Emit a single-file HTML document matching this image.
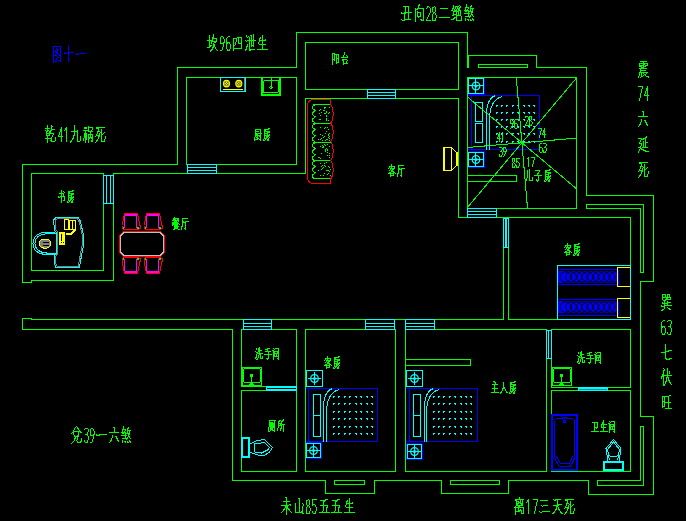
<!DOCTYPE html><html><head><meta charset="utf-8"><title>floor plan</title><style>html,body{margin:0;padding:0;background:#000;overflow:hidden;font-family:"Liberation Sans",sans-serif}svg{display:block}</style></head><body>
<svg width="687" height="521" viewBox="0 0 687 521" shape-rendering="crispEdges">
<title>户型风水平面图 图十一</title><desc>图十一 坎96四泄生 丑向28二绝煞 乾41九祸死 兑39一六煞 未山85五五生 离17三天死 震74六延死 巽63七伏旺 阳台 厨房 书房 餐厅 客厅 儿子房 客房 洗手间 厕所 主人房 卫生间</desc>
<rect width="687" height="521" fill="#000"/>
<path fill="#0000ff" d="M467 77h18v1h-18zM467 94h18v1h-18zM467 77h1v18h-1zM484 77h1v18h-1zM467 95h73v1h-73zM467 149h73v1h-73zM467 95h1v55h-1zM539 95h1v55h-1zM471 95h1v55h-1zM467 151h18v1h-18zM467 167h18v1h-18zM467 151h1v17h-1zM484 151h1v17h-1zM305 388h73v1h-73zM305 441h73v1h-73zM305 388h1v54h-1zM377 388h1v54h-1zM308 388h1v54h-1zM305 442h17v1h-17zM305 458h17v1h-17zM305 442h1v17h-1zM321 442h1v17h-1zM405 388h73v1h-73zM405 441h73v1h-73zM405 388h1v54h-1zM477 388h1v54h-1zM409 388h1v54h-1zM406 443h17v1h-17zM406 459h17v1h-17zM406 443h1v17h-1zM422 443h1v17h-1zM558 269h59v1h-59zM558 271h59v12h-59zM558 284h59v1h-59zM618 270h1v16h-1zM558 299h59v1h-59zM558 301h59v12h-59zM558 315h59v1h-59zM618 301h1v16h-1zM563 420h3v1h-3zM563 422h3v1h-3zM563 420h1v3h-1zM565 420h1v3h-1zM53 46h8v1h-8zM53 47h1v1h-1zM60 47h1v1h-1zM53 48h1v1h-1zM56 48h1v1h-1zM60 48h1v1h-1zM53 49h1v1h-1zM56 49h3v1h-3zM60 49h1v1h-1zM53 50h1v1h-1zM55 50h1v1h-1zM57 50h1v1h-1zM60 50h1v1h-1zM53 51h1v1h-1zM55 51h3v1h-3zM60 51h1v1h-1zM53 52h2v1h-2zM56 52h2v1h-2zM60 52h1v1h-1zM53 53h1v1h-1zM56 53h2v1h-2zM60 53h1v1h-1zM53 54h1v1h-1zM55 54h1v1h-1zM58 54h3v1h-3zM53 55h4v1h-4zM59 55h2v1h-2zM53 56h1v1h-1zM57 56h1v1h-1zM60 56h1v1h-1zM53 57h1v1h-1zM58 57h1v1h-1zM60 57h1v1h-1zM53 58h1v1h-1zM56 58h2v1h-2zM60 58h1v1h-1zM53 59h1v1h-1zM55 59h2v1h-2zM60 59h1v1h-1zM53 60h1v1h-1zM58 60h3v1h-3zM53 61h5v1h-5zM60 61h1v1h-1zM53 62h1v1h-1zM68 45h1v1h-1zM68 46h1v1h-1zM68 47h1v1h-1zM68 48h1v1h-1zM68 49h1v1h-1zM68 50h1v1h-1zM68 51h1v1h-1zM64 52h1v1h-1zM68 52h6v1h-6zM64 53h5v1h-5zM68 54h1v1h-1zM68 55h1v1h-1zM68 56h1v1h-1zM68 57h1v1h-1zM68 58h1v1h-1zM68 59h1v1h-1zM68 60h1v1h-1zM68 61h1v1h-1zM76 53h1v1h-1zM79 53h7v1h-7zM76 54h3v1h-3z"/>
<path d="M554.50 420.50 L556.50 418.50 L572.50 418.50 L574.50 420.50 L574.50 458.50 L570.50 466.50 L559.50 466.50 L554.50 458.50 L554.50 420.50" fill="none" stroke="#0000ff" stroke-width="1"/>
<path d="M556.50 456.50 L560.50 463.50 L569.50 463.50 L572.50 456.50" fill="none" stroke="#0000ff" stroke-width="1"/>
<path d="M561.50 416.50 L564.50 418.50 L567.50 416.50" fill="none" stroke="#0000ff" stroke-width="1"/>
<path fill="#00ff00" d="M22 164h1v119h-1zM22 164h156v1h-156zM177 67h1v98h-1zM177 67h120v1h-120zM296 32h1v36h-1zM296 32h172v1h-172zM467 32h1v36h-1zM468 55h1v13h-1zM468 55h69v1h-69zM536 55h1v13h-1zM536 67h51v1h-51zM586 67h1v129h-1zM586 195h68v1h-68zM653 195h1v87h-1zM640 281h14v1h-14zM640 281h1v136h-1zM640 416h14v1h-14zM653 416h1v79h-1zM588 494h66v1h-66zM588 480h1v15h-1zM508 480h81v1h-81zM508 480h1v14h-1zM441 493h68v1h-68zM441 480h1v14h-1zM374 480h68v1h-68zM374 480h1v14h-1zM325 493h50v1h-50zM325 480h1v14h-1zM232 480h94v1h-94zM232 329h1v152h-1zM22 329h211v1h-211zM22 318h1v12h-1zM22 318h10v1h-10zM31 318h1v2h-1zM31 319h473v1h-473zM508 319h123v1h-123zM22 282h10v1h-10zM31 280h1v3h-1zM31 280h83v1h-83zM113 173h1v108h-1zM31 173h73v1h-73zM31 270h73v1h-73zM31 173h1v98h-1zM103 173h1v98h-1zM113 173h193v1h-193zM305 98h1v76h-1zM186 77h111v1h-111zM296 77h1v88h-1zM186 164h111v1h-111zM186 77h1v88h-1zM305 42h154v1h-154zM305 89h154v1h-154zM305 42h1v48h-1zM458 42h1v48h-1zM305 98h154v1h-154zM458 98h1v120h-1zM458 217h173v1h-173zM503 217h1v103h-1zM508 217h1v103h-1zM630 217h1v103h-1zM478 64h50v1h-50zM478 67h50v1h-50zM478 64h1v4h-1zM527 64h1v4h-1zM467 77h110v1h-110zM467 208h110v1h-110zM467 77h1v132h-1zM576 77h1v132h-1zM467 175h50v1h-50zM467 181h50v1h-50zM467 175h1v7h-1zM516 175h1v7h-1zM586 204h58v1h-58zM643 204h1v69h-1zM640 272h4v1h-4zM640 208h1v65h-1zM586 208h55v1h-55zM586 204h1v5h-1zM241 329h56v1h-56zM241 386h56v1h-56zM241 329h1v58h-1zM296 329h1v58h-1zM241 390h56v1h-56zM241 471h56v1h-56zM241 390h1v82h-1zM296 390h1v82h-1zM305 329h91v1h-91zM305 471h91v1h-91zM305 329h1v143h-1zM395 329h1v143h-1zM405 329h142v1h-142zM405 329h1v143h-1zM405 471h142v1h-142zM546 329h1v143h-1zM551 329h80v1h-80zM551 387h80v1h-80zM551 329h1v59h-1zM630 329h1v59h-1zM551 390h80v1h-80zM551 471h80v1h-80zM551 390h1v82h-1zM630 390h1v82h-1zM405 359h66v1h-66zM405 365h66v1h-66zM405 359h1v7h-1zM470 359h1v7h-1zM334 480h31v1h-31zM334 484h31v1h-31zM334 480h1v5h-1zM364 480h1v5h-1zM450 480h50v1h-50zM450 484h50v1h-50zM450 480h1v5h-1zM499 480h1v5h-1zM597 480h44v1h-44zM640 426h1v55h-1zM640 426h4v1h-4zM643 426h1v60h-1zM597 485h47v1h-47zM597 480h1v6h-1zM261 77h20v1h-20zM261 95h20v1h-20zM261 77h1v19h-1zM280 77h1v19h-1zM261 94h20v1h-20zM262 77h1v19h-1zM279 77h1v19h-1zM271 78h1v10h-1zM242 367h20v1h-20zM242 385h20v1h-20zM242 367h1v19h-1zM261 367h1v19h-1zM251 375h1v11h-1zM250 374h3v1h-3zM250 376h3v1h-3zM250 374h1v3h-1zM252 374h1v3h-1zM249 384h5v1h-5zM250 383h3v1h-3zM552 367h20v1h-20zM552 385h20v1h-20zM552 367h1v19h-1zM571 367h1v19h-1zM561 375h1v11h-1zM560 374h3v1h-3zM560 376h3v1h-3zM560 374h1v3h-1zM562 374h1v3h-1zM559 384h5v1h-5zM560 383h3v1h-3zM122 227h2v2h-2zM137 227h2v2h-2zM144 227h2v2h-2zM159 227h2v2h-2zM122 258h2v2h-2zM137 258h2v2h-2zM144 258h2v2h-2zM159 258h2v2h-2zM313 104h18v1h-18zM324 110h1v1h-1zM325 107h1v1h-1zM320 109h1v1h-1zM324 107h1v1h-1zM329 112h1v1h-1zM319 119h1v1h-1zM325 113h1v1h-1zM320 119h1v1h-1zM320 109h1v1h-1zM329 107h1v1h-1zM326 118h1v1h-1zM319 113h1v1h-1zM319 110h1v1h-1zM323 110h1v1h-1zM326 115h1v1h-1zM326 111h1v1h-1zM321 112h1v1h-1zM324 108h1v1h-1zM326 112h1v1h-1zM326 119h1v1h-1zM328 120h1v1h-1zM326 120h1v1h-1zM324 113h1v1h-1zM328 113h1v1h-1zM320 115h1v1h-1zM326 116h1v1h-1zM313 123h18v1h-18zM328 134h1v1h-1zM327 127h1v1h-1zM321 138h1v1h-1zM322 135h1v1h-1zM322 140h1v1h-1zM325 127h1v1h-1zM328 135h1v1h-1zM324 136h1v1h-1zM326 139h1v1h-1zM320 127h1v1h-1zM329 140h1v1h-1zM327 127h1v1h-1zM320 134h1v1h-1zM327 139h1v1h-1zM323 137h1v1h-1zM329 136h1v1h-1zM318 139h1v1h-1zM324 128h1v1h-1zM326 131h1v1h-1zM328 129h1v1h-1zM328 137h1v1h-1zM325 140h1v1h-1zM320 139h1v1h-1zM325 133h1v1h-1zM329 138h1v1h-1zM329 133h1v1h-1zM313 142h18v1h-18zM327 149h1v1h-1zM327 150h1v1h-1zM329 146h1v1h-1zM320 146h1v1h-1zM323 147h1v1h-1zM318 157h1v1h-1zM326 148h1v1h-1zM323 146h1v1h-1zM325 149h1v1h-1zM327 149h1v1h-1zM329 155h1v1h-1zM329 153h1v1h-1zM327 155h1v1h-1zM320 158h1v1h-1zM329 157h1v1h-1zM327 152h1v1h-1zM325 150h1v1h-1zM325 151h1v1h-1zM327 144h1v1h-1zM322 147h1v1h-1zM325 145h1v1h-1zM324 144h1v1h-1zM321 153h1v1h-1zM322 145h1v1h-1zM329 153h1v1h-1zM319 157h1v1h-1zM313 160h18v1h-18zM322 168h1v1h-1zM321 166h1v1h-1zM329 171h1v1h-1zM324 163h1v1h-1zM321 169h1v1h-1zM330 169h1v1h-1zM325 166h1v1h-1zM320 163h1v1h-1zM328 173h1v1h-1zM323 175h1v1h-1zM327 170h1v1h-1zM318 170h1v1h-1zM324 173h1v1h-1zM326 162h1v1h-1zM328 166h1v1h-1zM330 175h1v1h-1zM320 175h1v1h-1zM323 167h1v1h-1zM329 167h1v1h-1zM328 170h1v1h-1zM326 170h1v1h-1zM324 165h1v1h-1zM327 174h1v1h-1zM330 175h1v1h-1zM322 165h1v1h-1zM328 173h1v1h-1zM313 178h18v1h-18zM213 34h1v1h-1zM209 35h1v1h-1zM213 35h1v1h-1zM209 36h1v1h-1zM213 36h1v1h-1zM209 37h1v1h-1zM212 37h2v1h-2zM209 38h1v1h-1zM212 38h5v1h-5zM209 39h1v1h-1zM212 39h1v1h-1zM216 39h1v1h-1zM207 40h6v1h-6zM216 40h1v1h-1zM209 41h1v1h-1zM211 41h6v1h-6zM209 42h1v1h-1zM211 42h1v1h-1zM214 42h2v1h-2zM209 43h1v1h-1zM211 43h1v1h-1zM213 43h1v1h-1zM209 44h1v1h-1zM213 44h2v1h-2zM209 45h3v1h-3zM213 45h2v1h-2zM209 46h2v1h-2zM213 46h2v1h-2zM207 47h3v1h-3zM212 47h2v1h-2zM215 47h1v1h-1zM212 48h1v1h-1zM215 48h1v1h-1zM211 49h2v1h-2zM216 49h1v1h-1zM210 50h2v1h-2zM217 50h1v1h-1zM210 51h1v1h-1zM221 36h2v1h-2zM220 37h1v1h-1zM223 37h1v1h-1zM220 38h1v1h-1zM223 38h1v1h-1zM220 39h1v1h-1zM224 39h1v1h-1zM220 40h1v1h-1zM224 40h1v1h-1zM220 41h1v1h-1zM224 41h1v1h-1zM220 42h1v1h-1zM223 42h2v1h-2zM220 43h4v1h-4zM223 44h1v1h-1zM223 45h1v1h-1zM223 46h1v1h-1zM222 47h1v1h-1zM222 48h1v1h-1zM222 49h1v1h-1zM220 50h2v1h-2zM228 36h2v1h-2zM227 37h1v1h-1zM226 38h1v1h-1zM226 39h1v1h-1zM226 40h1v1h-1zM226 41h1v1h-1zM226 42h4v1h-4zM226 43h2v1h-2zM229 43h1v1h-1zM226 44h1v1h-1zM230 44h1v1h-1zM226 45h1v1h-1zM230 45h1v1h-1zM226 46h1v1h-1zM230 46h1v1h-1zM226 47h1v1h-1zM230 47h1v1h-1zM226 48h1v1h-1zM230 48h1v1h-1zM227 49h1v1h-1zM229 49h1v1h-1zM227 50h3v1h-3zM237 37h5v1h-5zM233 38h4v1h-4zM238 38h1v1h-1zM241 38h1v1h-1zM233 39h1v1h-1zM236 39h1v1h-1zM238 39h1v1h-1zM241 39h1v1h-1zM233 40h1v1h-1zM236 40h1v1h-1zM238 40h1v1h-1zM241 40h1v1h-1zM233 41h1v1h-1zM236 41h1v1h-1zM238 41h1v1h-1zM241 41h1v1h-1zM233 42h1v1h-1zM235 42h1v1h-1zM238 42h1v1h-1zM241 42h1v1h-1zM233 43h1v1h-1zM235 43h1v1h-1zM238 43h4v1h-4zM233 44h1v1h-1zM235 44h1v1h-1zM241 44h1v1h-1zM233 45h2v1h-2zM241 45h1v1h-1zM233 46h1v1h-1zM241 46h1v1h-1zM233 47h1v1h-1zM241 47h1v1h-1zM233 48h9v1h-9zM233 49h1v1h-1zM233 50h1v1h-1zM253 34h1v1h-1zM246 35h1v1h-1zM250 35h2v1h-2zM253 35h1v1h-1zM246 36h1v1h-1zM248 36h1v1h-1zM251 36h1v1h-1zM253 36h1v1h-1zM247 37h1v1h-1zM249 37h1v1h-1zM251 37h1v1h-1zM253 37h1v1h-1zM249 38h1v1h-1zM251 38h1v1h-1zM253 38h1v1h-1zM249 39h1v1h-1zM251 39h1v1h-1zM253 39h1v1h-1zM245 40h1v1h-1zM247 40h9v1h-9zM246 41h1v1h-1zM249 41h1v1h-1zM251 41h1v1h-1zM253 41h1v1h-1zM249 42h1v1h-1zM251 42h1v1h-1zM253 42h1v1h-1zM249 43h1v1h-1zM251 43h1v1h-1zM253 43h1v1h-1zM247 44h1v1h-1zM249 44h1v1h-1zM251 44h1v1h-1zM253 44h1v1h-1zM247 45h1v1h-1zM249 45h1v1h-1zM251 45h3v1h-3zM246 46h2v1h-2zM249 46h1v1h-1zM251 46h1v1h-1zM253 46h1v1h-1zM246 47h1v1h-1zM249 47h1v1h-1zM246 48h1v1h-1zM249 48h1v1h-1zM245 49h2v1h-2zM249 49h6v1h-6zM245 50h1v1h-1zM249 50h2v1h-2zM262 35h1v1h-1zM262 36h1v1h-1zM260 37h1v1h-1zM262 37h1v1h-1zM259 38h2v1h-2zM262 38h1v1h-1zM259 39h1v1h-1zM262 39h1v1h-1zM265 39h1v1h-1zM259 40h7v1h-7zM259 41h1v1h-1zM262 41h1v1h-1zM258 42h1v1h-1zM262 42h1v1h-1zM258 43h1v1h-1zM262 43h1v1h-1zM259 44h7v1h-7zM262 45h1v1h-1zM262 46h1v1h-1zM262 47h1v1h-1zM262 48h1v1h-1zM257 49h11v1h-11zM403 6h6v1h-6zM405 7h1v1h-1zM408 7h1v1h-1zM405 8h1v1h-1zM408 8h1v1h-1zM405 9h1v1h-1zM408 9h1v1h-1zM405 10h1v1h-1zM408 10h1v1h-1zM405 11h1v1h-1zM408 11h1v1h-1zM401 12h1v1h-1zM404 12h8v1h-8zM401 13h5v1h-5zM408 13h1v1h-1zM404 14h1v1h-1zM408 14h1v1h-1zM404 15h1v1h-1zM408 15h1v1h-1zM404 16h1v1h-1zM408 16h1v1h-1zM404 17h1v1h-1zM408 17h1v1h-1zM404 18h1v1h-1zM408 18h1v1h-1zM401 19h1v1h-1zM404 19h7v1h-7zM402 20h3v1h-3zM419 4h1v1h-1zM418 5h2v1h-2zM418 6h1v1h-1zM418 7h1v1h-1zM415 8h1v1h-1zM417 8h7v1h-7zM415 9h3v1h-3zM423 9h1v1h-1zM415 10h1v1h-1zM423 10h1v1h-1zM415 11h1v1h-1zM417 11h1v1h-1zM423 11h1v1h-1zM415 12h1v1h-1zM417 12h4v1h-4zM423 12h1v1h-1zM415 13h1v1h-1zM417 13h1v1h-1zM420 13h1v1h-1zM423 13h1v1h-1zM415 14h1v1h-1zM417 14h1v1h-1zM420 14h1v1h-1zM423 14h1v1h-1zM415 15h1v1h-1zM417 15h1v1h-1zM420 15h1v1h-1zM423 15h1v1h-1zM415 16h1v1h-1zM417 16h4v1h-4zM423 16h1v1h-1zM415 17h1v1h-1zM418 17h1v1h-1zM423 17h1v1h-1zM415 18h1v1h-1zM423 18h1v1h-1zM415 19h1v1h-1zM420 19h2v1h-2zM423 19h1v1h-1zM415 20h1v1h-1zM421 20h3v1h-3zM415 21h1v1h-1zM427 6h2v1h-2zM427 7h1v1h-1zM429 7h1v1h-1zM426 8h1v1h-1zM430 8h1v1h-1zM430 9h1v1h-1zM430 10h1v1h-1zM430 11h1v1h-1zM430 12h1v1h-1zM429 13h1v1h-1zM429 14h1v1h-1zM428 15h1v1h-1zM428 16h1v1h-1zM427 17h1v1h-1zM427 18h1v1h-1zM426 19h1v1h-1zM426 20h5v1h-5zM434 6h1v1h-1zM432 7h2v1h-2zM435 7h1v1h-1zM432 8h1v1h-1zM435 8h1v1h-1zM432 9h1v1h-1zM435 9h1v1h-1zM432 10h1v1h-1zM435 10h1v1h-1zM432 11h1v1h-1zM435 11h1v1h-1zM433 12h2v1h-2zM433 13h1v1h-1zM435 13h1v1h-1zM432 14h1v1h-1zM435 14h1v1h-1zM432 15h1v1h-1zM436 15h1v1h-1zM432 16h1v1h-1zM436 16h1v1h-1zM432 17h1v1h-1zM436 17h1v1h-1zM432 18h1v1h-1zM435 18h1v1h-1zM432 19h1v1h-1zM435 19h1v1h-1zM432 20h4v1h-4zM440 8h8v1h-8zM439 17h11v1h-11zM453 5h1v1h-1zM459 5h1v1h-1zM453 6h1v1h-1zM455 6h4v1h-4zM460 6h1v1h-1zM453 7h1v1h-1zM455 7h1v1h-1zM457 7h1v1h-1zM459 7h2v1h-2zM452 8h2v1h-2zM455 8h1v1h-1zM457 8h3v1h-3zM452 9h1v1h-1zM454 9h1v1h-1zM456 9h1v1h-1zM458 9h2v1h-2zM451 10h2v1h-2zM454 10h3v1h-3zM458 10h3v1h-3zM453 11h6v1h-6zM460 11h1v1h-1zM453 12h1v1h-1zM456 12h1v1h-1zM458 12h1v1h-1zM460 12h1v1h-1zM453 13h1v1h-1zM456 13h1v1h-1zM458 13h1v1h-1zM460 13h1v1h-1zM453 14h4v1h-4zM458 14h1v1h-1zM460 14h1v1h-1zM452 15h2v1h-2zM456 15h5v1h-5zM456 16h1v1h-1zM461 16h1v1h-1zM454 17h3v1h-3zM461 17h1v1h-1zM453 18h2v1h-2zM456 18h1v1h-1zM461 18h1v1h-1zM451 19h3v1h-3zM456 19h1v1h-1zM461 19h1v1h-1zM456 20h6v1h-6zM466 4h1v1h-1zM466 5h1v1h-1zM471 5h1v1h-1zM466 6h1v1h-1zM470 6h2v1h-2zM465 7h4v1h-4zM470 7h1v1h-1zM465 8h1v1h-1zM468 8h1v1h-1zM470 8h4v1h-4zM465 9h1v1h-1zM467 9h1v1h-1zM470 9h1v1h-1zM472 9h1v1h-1zM464 10h5v1h-5zM470 10h1v1h-1zM472 10h1v1h-1zM465 11h2v1h-2zM468 11h5v1h-5zM468 12h1v1h-1zM471 12h2v1h-2zM464 13h6v1h-6zM471 13h1v1h-1zM468 14h1v1h-1zM471 14h2v1h-2zM468 15h1v1h-1zM470 15h1v1h-1zM472 15h1v1h-1zM465 16h6v1h-6zM473 16h1v1h-1zM469 17h1v1h-1zM465 18h1v1h-1zM472 18h1v1h-1zM465 19h1v1h-1zM467 19h2v1h-2zM470 19h1v1h-1zM472 19h2v1h-2zM465 20h1v1h-1zM468 20h1v1h-1zM470 20h2v1h-2zM473 20h1v1h-1zM47 125h1v1h-1zM51 125h1v1h-1zM47 126h1v1h-1zM51 126h2v1h-2zM47 127h1v1h-1zM51 127h1v1h-1zM45 128h5v1h-5zM51 128h1v1h-1zM47 129h1v1h-1zM51 129h4v1h-4zM45 130h1v1h-1zM47 130h2v1h-2zM50 130h2v1h-2zM46 131h2v1h-2zM49 131h2v1h-2zM46 132h1v1h-1zM49 132h2v1h-2zM46 133h8v1h-8zM46 134h1v1h-1zM49 134h1v1h-1zM53 134h1v1h-1zM46 135h4v1h-4zM52 135h1v1h-1zM47 136h1v1h-1zM52 136h1v1h-1zM47 137h1v1h-1zM51 137h1v1h-1zM55 137h1v1h-1zM45 138h7v1h-7zM55 138h1v1h-1zM47 139h1v1h-1zM51 139h1v1h-1zM55 139h1v1h-1zM47 140h1v1h-1zM50 140h2v1h-2zM55 140h1v1h-1zM47 141h1v1h-1zM51 141h4v1h-4zM47 142h1v1h-1zM61 127h1v1h-1zM61 128h1v1h-1zM60 129h2v1h-2zM60 130h2v1h-2zM60 131h2v1h-2zM59 132h1v1h-1zM61 132h1v1h-1zM59 133h1v1h-1zM61 133h1v1h-1zM59 134h1v1h-1zM61 134h1v1h-1zM58 135h1v1h-1zM61 135h1v1h-1zM58 136h5v1h-5zM61 137h1v1h-1zM61 138h1v1h-1zM61 139h1v1h-1zM61 140h1v1h-1zM61 141h1v1h-1zM66 127h1v1h-1zM65 128h2v1h-2zM65 129h2v1h-2zM64 130h1v1h-1zM66 130h1v1h-1zM66 131h1v1h-1zM66 132h1v1h-1zM66 133h1v1h-1zM66 134h1v1h-1zM66 135h1v1h-1zM66 136h1v1h-1zM66 137h1v1h-1zM66 138h1v1h-1zM66 139h1v1h-1zM66 140h1v1h-1zM66 141h1v1h-1zM74 125h1v1h-1zM74 126h1v1h-1zM74 127h1v1h-1zM74 128h1v1h-1zM74 129h1v1h-1zM74 130h1v1h-1zM77 130h1v1h-1zM71 131h7v1h-7zM74 132h1v1h-1zM77 132h1v1h-1zM74 133h1v1h-1zM77 133h1v1h-1zM74 134h1v1h-1zM77 134h1v1h-1zM73 135h2v1h-2zM77 135h1v1h-1zM73 136h1v1h-1zM77 136h1v1h-1zM80 136h1v1h-1zM73 137h1v1h-1zM77 137h1v1h-1zM80 137h1v1h-1zM72 138h2v1h-2zM77 138h1v1h-1zM80 138h1v1h-1zM72 139h1v1h-1zM77 139h1v1h-1zM80 139h1v1h-1zM71 140h1v1h-1zM77 140h1v1h-1zM80 140h1v1h-1zM70 141h2v1h-2zM77 141h3v1h-3zM70 142h1v1h-1zM88 126h1v1h-1zM84 127h3v1h-3zM88 127h5v1h-5zM84 128h3v1h-3zM88 128h1v1h-1zM92 128h1v1h-1zM88 129h1v1h-1zM92 129h1v1h-1zM83 130h6v1h-6zM91 130h1v1h-1zM85 131h1v1h-1zM88 131h5v1h-5zM85 132h1v1h-1zM90 132h1v1h-1zM84 133h3v1h-3zM90 133h1v1h-1zM84 134h3v1h-3zM88 134h5v1h-5zM84 135h3v1h-3zM88 135h1v1h-1zM90 135h1v1h-1zM92 135h1v1h-1zM84 136h3v1h-3zM88 136h1v1h-1zM90 136h1v1h-1zM92 136h1v1h-1zM84 137h3v1h-3zM88 137h5v1h-5zM83 138h1v1h-1zM85 138h2v1h-2zM88 138h2v1h-2zM91 138h2v1h-2zM83 139h1v1h-1zM85 139h2v1h-2zM88 139h1v1h-1zM92 139h1v1h-1zM83 140h1v1h-1zM85 140h1v1h-1zM88 140h1v1h-1zM91 140h2v1h-2zM85 141h1v1h-1zM88 141h1v1h-1zM91 141h2v1h-2zM85 142h1v1h-1zM88 142h1v1h-1zM96 127h9v1h-9zM96 128h3v1h-3zM98 129h1v1h-1zM101 129h1v1h-1zM98 130h1v1h-1zM101 130h1v1h-1zM97 131h3v1h-3zM101 131h1v1h-1zM97 132h1v1h-1zM100 132h2v1h-2zM104 132h1v1h-1zM97 133h1v1h-1zM99 133h1v1h-1zM101 133h1v1h-1zM103 133h1v1h-1zM96 134h1v1h-1zM99 134h1v1h-1zM101 134h2v1h-2zM96 135h4v1h-4zM101 135h1v1h-1zM95 136h1v1h-1zM98 136h2v1h-2zM101 136h1v1h-1zM105 136h1v1h-1zM98 137h1v1h-1zM101 137h1v1h-1zM105 137h1v1h-1zM98 138h1v1h-1zM101 138h1v1h-1zM105 138h1v1h-1zM97 139h1v1h-1zM101 139h1v1h-1zM104 139h1v1h-1zM96 140h2v1h-2zM101 140h1v1h-1zM104 140h1v1h-1zM96 141h1v1h-1zM101 141h4v1h-4zM95 142h1v1h-1zM76 426h1v1h-1zM75 427h1v1h-1zM77 427h1v1h-1zM74 428h1v1h-1zM77 428h2v1h-2zM74 429h1v1h-1zM78 429h1v1h-1zM73 430h1v1h-1zM79 430h1v1h-1zM73 431h8v1h-8zM72 432h2v1h-2zM78 432h1v1h-1zM80 432h2v1h-2zM71 433h1v1h-1zM73 433h1v1h-1zM78 433h1v1h-1zM73 434h1v1h-1zM78 434h1v1h-1zM74 435h1v1h-1zM77 435h2v1h-2zM74 436h5v1h-5zM75 437h1v1h-1zM77 437h1v1h-1zM74 438h2v1h-2zM77 438h1v1h-1zM81 438h1v1h-1zM74 439h1v1h-1zM77 439h1v1h-1zM81 439h1v1h-1zM74 440h1v1h-1zM76 440h1v1h-1zM81 440h1v1h-1zM73 441h1v1h-1zM77 441h1v1h-1zM80 441h2v1h-2zM72 442h1v1h-1zM77 442h4v1h-4zM71 443h1v1h-1zM85 428h3v1h-3zM84 429h1v1h-1zM88 429h1v1h-1zM88 430h1v1h-1zM88 431h1v1h-1zM87 432h1v1h-1zM87 433h1v1h-1zM85 434h3v1h-3zM87 435h1v1h-1zM88 436h1v1h-1zM88 437h1v1h-1zM88 438h1v1h-1zM88 439h1v1h-1zM84 440h1v1h-1zM87 440h1v1h-1zM84 441h1v1h-1zM87 441h1v1h-1zM85 442h3v1h-3zM91 428h2v1h-2zM90 429h1v1h-1zM93 429h1v1h-1zM90 430h1v1h-1zM93 430h1v1h-1zM90 431h1v1h-1zM94 431h1v1h-1zM90 432h1v1h-1zM94 432h1v1h-1zM90 433h1v1h-1zM94 433h1v1h-1zM90 434h1v1h-1zM93 434h2v1h-2zM90 435h4v1h-4zM93 436h1v1h-1zM93 437h1v1h-1zM93 438h1v1h-1zM92 439h1v1h-1zM92 440h1v1h-1zM92 441h1v1h-1zM90 442h2v1h-2zM96 434h1v1h-1zM99 434h8v1h-8zM96 435h4v1h-4zM113 427h2v1h-2zM114 428h1v1h-1zM114 429h1v1h-1zM114 430h1v1h-1zM114 431h1v1h-1zM109 432h10v1h-10zM112 435h1v1h-1zM112 436h1v1h-1zM115 436h2v1h-2zM112 437h1v1h-1zM116 437h1v1h-1zM111 438h1v1h-1zM116 438h2v1h-2zM111 439h1v1h-1zM117 439h1v1h-1zM110 440h2v1h-2zM117 440h2v1h-2zM110 441h1v1h-1zM118 441h1v1h-1zM109 442h1v1h-1zM123 426h1v1h-1zM123 427h1v1h-1zM128 427h1v1h-1zM123 428h1v1h-1zM127 428h2v1h-2zM122 429h4v1h-4zM127 429h1v1h-1zM122 430h1v1h-1zM125 430h1v1h-1zM127 430h4v1h-4zM122 431h1v1h-1zM124 431h1v1h-1zM127 431h1v1h-1zM129 431h1v1h-1zM121 432h5v1h-5zM127 432h1v1h-1zM129 432h1v1h-1zM122 433h2v1h-2zM125 433h5v1h-5zM125 434h1v1h-1zM128 434h2v1h-2zM121 435h6v1h-6zM128 435h1v1h-1zM125 436h1v1h-1zM128 436h2v1h-2zM125 437h1v1h-1zM127 437h1v1h-1zM129 437h1v1h-1zM122 438h6v1h-6zM130 438h1v1h-1zM126 439h1v1h-1zM122 440h1v1h-1zM129 440h1v1h-1zM122 441h1v1h-1zM124 441h2v1h-2zM127 441h1v1h-1zM129 441h2v1h-2zM122 442h1v1h-1zM125 442h1v1h-1zM127 442h2v1h-2zM130 442h1v1h-1zM285 497h2v1h-2zM286 498h1v1h-1zM286 499h1v1h-1zM286 500h1v1h-1zM283 501h7v1h-7zM286 502h1v1h-1zM286 503h1v1h-1zM286 504h1v1h-1zM289 504h2v1h-2zM281 505h8v1h-8zM290 505h1v1h-1zM285 506h3v1h-3zM285 507h3v1h-3zM284 508h1v1h-1zM286 508h3v1h-3zM283 509h2v1h-2zM286 509h1v1h-1zM288 509h2v1h-2zM283 510h1v1h-1zM286 510h1v1h-1zM289 510h1v1h-1zM282 511h1v1h-1zM286 511h1v1h-1zM290 511h1v1h-1zM281 512h1v1h-1zM286 512h1v1h-1zM291 512h1v1h-1zM286 513h1v1h-1zM286 514h1v1h-1zM298 498h2v1h-2zM299 499h1v1h-1zM299 500h1v1h-1zM299 501h1v1h-1zM299 502h1v1h-1zM295 503h1v1h-1zM299 503h1v1h-1zM302 503h1v1h-1zM295 504h1v1h-1zM299 504h1v1h-1zM303 504h1v1h-1zM295 505h1v1h-1zM299 505h1v1h-1zM303 505h1v1h-1zM295 506h1v1h-1zM299 506h1v1h-1zM302 506h1v1h-1zM295 507h1v1h-1zM299 507h1v1h-1zM302 507h1v1h-1zM295 508h1v1h-1zM299 508h1v1h-1zM302 508h1v1h-1zM295 509h1v1h-1zM299 509h1v1h-1zM302 509h1v1h-1zM295 510h1v1h-1zM299 510h1v1h-1zM302 510h1v1h-1zM295 511h1v1h-1zM299 511h1v1h-1zM301 511h2v1h-2zM295 512h8v1h-8zM302 513h2v1h-2zM308 499h1v1h-1zM306 500h2v1h-2zM309 500h1v1h-1zM306 501h1v1h-1zM309 501h1v1h-1zM306 502h1v1h-1zM309 502h1v1h-1zM306 503h1v1h-1zM309 503h1v1h-1zM306 504h1v1h-1zM309 504h1v1h-1zM307 505h2v1h-2zM307 506h1v1h-1zM309 506h1v1h-1zM306 507h1v1h-1zM309 507h1v1h-1zM306 508h1v1h-1zM310 508h1v1h-1zM306 509h1v1h-1zM310 509h1v1h-1zM306 510h1v1h-1zM310 510h1v1h-1zM306 511h1v1h-1zM309 511h1v1h-1zM306 512h1v1h-1zM309 512h1v1h-1zM306 513h4v1h-4zM312 499h5v1h-5zM312 500h1v1h-1zM312 501h1v1h-1zM312 502h1v1h-1zM312 503h1v1h-1zM312 504h3v1h-3zM312 505h1v1h-1zM315 505h1v1h-1zM315 506h1v1h-1zM316 507h1v1h-1zM316 508h1v1h-1zM316 509h1v1h-1zM316 510h1v1h-1zM312 511h1v1h-1zM315 511h1v1h-1zM312 512h1v1h-1zM315 512h1v1h-1zM313 513h3v1h-3zM325 499h3v1h-3zM320 500h6v1h-6zM323 501h2v1h-2zM323 502h1v1h-1zM323 503h1v1h-1zM323 504h1v1h-1zM320 505h8v1h-8zM323 506h1v1h-1zM327 506h1v1h-1zM323 507h1v1h-1zM326 507h2v1h-2zM323 508h1v1h-1zM326 508h1v1h-1zM323 509h1v1h-1zM326 509h1v1h-1zM323 510h1v1h-1zM326 510h1v1h-1zM322 511h1v1h-1zM326 511h1v1h-1zM319 512h11v1h-11zM337 499h3v1h-3zM332 500h6v1h-6zM335 501h2v1h-2zM335 502h1v1h-1zM335 503h1v1h-1zM335 504h1v1h-1zM332 505h8v1h-8zM335 506h1v1h-1zM339 506h1v1h-1zM335 507h1v1h-1zM338 507h2v1h-2zM335 508h1v1h-1zM338 508h1v1h-1zM335 509h1v1h-1zM338 509h1v1h-1zM335 510h1v1h-1zM338 510h1v1h-1zM334 511h1v1h-1zM338 511h1v1h-1zM331 512h11v1h-11zM349 498h1v1h-1zM349 499h1v1h-1zM347 500h1v1h-1zM349 500h1v1h-1zM346 501h2v1h-2zM349 501h1v1h-1zM346 502h1v1h-1zM349 502h1v1h-1zM352 502h1v1h-1zM346 503h7v1h-7zM346 504h1v1h-1zM349 504h1v1h-1zM345 505h1v1h-1zM349 505h1v1h-1zM345 506h1v1h-1zM349 506h1v1h-1zM346 507h7v1h-7zM349 508h1v1h-1zM349 509h1v1h-1zM349 510h1v1h-1zM349 511h1v1h-1zM344 512h11v1h-11zM519 497h1v1h-1zM519 498h1v1h-1zM515 499h9v1h-9zM515 500h2v1h-2zM520 500h1v1h-1zM522 500h1v1h-1zM516 501h3v1h-3zM520 501h1v1h-1zM522 501h1v1h-1zM516 502h1v1h-1zM518 502h3v1h-3zM522 502h1v1h-1zM516 503h3v1h-3zM520 503h3v1h-3zM516 504h2v1h-2zM521 504h2v1h-2zM516 505h7v1h-7zM515 506h1v1h-1zM518 506h2v1h-2zM514 507h10v1h-10zM515 508h1v1h-1zM518 508h1v1h-1zM523 508h1v1h-1zM515 509h1v1h-1zM518 509h1v1h-1zM520 509h1v1h-1zM523 509h1v1h-1zM515 510h1v1h-1zM518 510h4v1h-4zM523 510h1v1h-1zM515 511h5v1h-5zM521 511h1v1h-1zM523 511h1v1h-1zM515 512h1v1h-1zM521 512h1v1h-1zM523 512h1v1h-1zM515 513h1v1h-1zM521 513h3v1h-3zM515 514h1v1h-1zM528 499h1v1h-1zM527 500h2v1h-2zM527 501h2v1h-2zM526 502h1v1h-1zM528 502h1v1h-1zM528 503h1v1h-1zM528 504h1v1h-1zM528 505h1v1h-1zM528 506h1v1h-1zM528 507h1v1h-1zM528 508h1v1h-1zM528 509h1v1h-1zM528 510h1v1h-1zM528 511h1v1h-1zM528 512h1v1h-1zM528 513h1v1h-1zM533 499h5v1h-5zM537 500h1v1h-1zM537 501h1v1h-1zM536 502h1v1h-1zM536 503h1v1h-1zM536 504h1v1h-1zM536 505h1v1h-1zM535 506h1v1h-1zM535 507h1v1h-1zM535 508h1v1h-1zM535 509h1v1h-1zM535 510h1v1h-1zM534 511h1v1h-1zM534 512h1v1h-1zM534 513h1v1h-1zM540 500h8v1h-8zM541 505h1v1h-1zM543 505h5v1h-5zM542 506h1v1h-1zM539 511h1v1h-1zM542 511h8v1h-8zM540 512h2v1h-2zM553 499h1v1h-1zM555 499h6v1h-6zM554 500h2v1h-2zM557 500h1v1h-1zM557 501h1v1h-1zM557 502h1v1h-1zM557 503h1v1h-1zM557 504h5v1h-5zM553 505h6v1h-6zM556 506h2v1h-2zM556 507h1v1h-1zM558 507h1v1h-1zM556 508h1v1h-1zM558 508h1v1h-1zM555 509h2v1h-2zM558 509h2v1h-2zM555 510h1v1h-1zM559 510h1v1h-1zM554 511h1v1h-1zM560 511h1v1h-1zM553 512h2v1h-2zM560 512h2v1h-2zM552 513h2v1h-2zM561 513h2v1h-2zM565 499h9v1h-9zM565 500h3v1h-3zM567 501h1v1h-1zM570 501h1v1h-1zM567 502h1v1h-1zM570 502h1v1h-1zM566 503h3v1h-3zM570 503h1v1h-1zM566 504h1v1h-1zM569 504h2v1h-2zM573 504h1v1h-1zM566 505h1v1h-1zM568 505h1v1h-1zM570 505h1v1h-1zM572 505h1v1h-1zM565 506h1v1h-1zM568 506h1v1h-1zM570 506h2v1h-2zM565 507h4v1h-4zM570 507h1v1h-1zM564 508h1v1h-1zM567 508h2v1h-2zM570 508h1v1h-1zM574 508h1v1h-1zM567 509h1v1h-1zM570 509h1v1h-1zM574 509h1v1h-1zM567 510h1v1h-1zM570 510h1v1h-1zM574 510h1v1h-1zM566 511h1v1h-1zM570 511h1v1h-1zM573 511h1v1h-1zM565 512h2v1h-2zM570 512h1v1h-1zM573 512h1v1h-1zM565 513h1v1h-1zM570 513h4v1h-4zM564 514h1v1h-1zM640 61h7v1h-7zM643 62h1v1h-1zM639 63h9v1h-9zM639 64h1v1h-1zM643 64h2v1h-2zM647 64h1v1h-1zM639 65h5v1h-5zM645 65h3v1h-3zM639 66h3v1h-3zM643 66h3v1h-3zM641 67h3v1h-3zM639 68h8v1h-8zM640 69h1v1h-1zM640 70h6v1h-6zM640 71h1v1h-1zM639 72h9v1h-9zM639 73h1v1h-1zM641 73h1v1h-1zM643 73h1v1h-1zM646 73h1v1h-1zM639 74h1v1h-1zM641 74h1v1h-1zM644 74h2v1h-2zM639 75h1v1h-1zM641 75h1v1h-1zM643 75h1v1h-1zM645 75h1v1h-1zM638 76h1v1h-1zM641 76h2v1h-2zM646 76h3v1h-3zM638 77h1v1h-1zM640 77h1v1h-1zM648 77h1v1h-1zM638 86h5v1h-5zM642 87h1v1h-1zM642 88h1v1h-1zM641 89h1v1h-1zM641 90h1v1h-1zM641 91h1v1h-1zM641 92h1v1h-1zM640 93h1v1h-1zM640 94h1v1h-1zM640 95h1v1h-1zM640 96h1v1h-1zM640 97h1v1h-1zM639 98h1v1h-1zM639 99h1v1h-1zM639 100h1v1h-1zM647 86h1v1h-1zM647 87h1v1h-1zM646 88h2v1h-2zM646 89h2v1h-2zM646 90h2v1h-2zM645 91h1v1h-1zM647 91h1v1h-1zM645 92h1v1h-1zM647 92h1v1h-1zM645 93h1v1h-1zM647 93h1v1h-1zM644 94h1v1h-1zM647 94h1v1h-1zM644 95h5v1h-5zM647 96h1v1h-1zM647 97h1v1h-1zM647 98h1v1h-1zM647 99h1v1h-1zM647 100h1v1h-1zM642 111h2v1h-2zM643 112h1v1h-1zM643 113h1v1h-1zM643 114h1v1h-1zM643 115h1v1h-1zM638 116h10v1h-10zM641 119h1v1h-1zM641 120h1v1h-1zM644 120h2v1h-2zM641 121h1v1h-1zM645 121h1v1h-1zM640 122h1v1h-1zM645 122h2v1h-2zM640 123h1v1h-1zM646 123h1v1h-1zM639 124h2v1h-2zM646 124h2v1h-2zM639 125h1v1h-1zM647 125h1v1h-1zM638 126h1v1h-1zM646 136h1v1h-1zM645 137h2v1h-2zM638 138h4v1h-4zM643 138h3v1h-3zM641 139h3v1h-3zM645 139h1v1h-1zM640 140h1v1h-1zM645 140h1v1h-1zM640 141h1v1h-1zM643 141h1v1h-1zM645 141h1v1h-1zM639 142h1v1h-1zM643 142h1v1h-1zM645 142h3v1h-3zM639 143h3v1h-3zM643 143h1v1h-1zM645 143h1v1h-1zM641 144h1v1h-1zM643 144h1v1h-1zM645 144h1v1h-1zM641 145h1v1h-1zM643 145h1v1h-1zM645 145h1v1h-1zM640 146h1v1h-1zM643 146h1v1h-1zM645 146h1v1h-1zM638 147h3v1h-3zM642 147h6v1h-6zM640 148h2v1h-2zM639 149h1v1h-1zM641 149h3v1h-3zM639 150h1v1h-1zM643 150h3v1h-3zM638 151h1v1h-1zM645 151h4v1h-4zM638 152h1v1h-1zM639 162h9v1h-9zM639 163h3v1h-3zM641 164h1v1h-1zM644 164h1v1h-1zM641 165h1v1h-1zM644 165h1v1h-1zM640 166h3v1h-3zM644 166h1v1h-1zM640 167h1v1h-1zM643 167h2v1h-2zM647 167h1v1h-1zM640 168h1v1h-1zM642 168h1v1h-1zM644 168h1v1h-1zM646 168h1v1h-1zM639 169h1v1h-1zM642 169h1v1h-1zM644 169h2v1h-2zM639 170h4v1h-4zM644 170h1v1h-1zM638 171h1v1h-1zM641 171h2v1h-2zM644 171h1v1h-1zM648 171h1v1h-1zM641 172h1v1h-1zM644 172h1v1h-1zM648 172h1v1h-1zM641 173h1v1h-1zM644 173h1v1h-1zM648 173h1v1h-1zM640 174h1v1h-1zM644 174h1v1h-1zM647 174h1v1h-1zM639 175h2v1h-2zM644 175h1v1h-1zM647 175h1v1h-1zM639 176h1v1h-1zM644 176h4v1h-4zM638 177h1v1h-1zM662 294h4v1h-4zM667 294h3v1h-3zM662 295h1v1h-1zM665 295h1v1h-1zM667 295h1v1h-1zM669 295h1v1h-1zM662 296h1v1h-1zM665 296h1v1h-1zM667 296h1v1h-1zM669 296h1v1h-1zM662 297h9v1h-9zM662 298h1v1h-1zM666 298h2v1h-2zM670 298h1v1h-1zM662 299h1v1h-1zM665 299h6v1h-6zM663 300h3v1h-3zM664 301h1v1h-1zM667 301h1v1h-1zM662 302h1v1h-1zM664 302h1v1h-1zM667 302h4v1h-4zM662 303h6v1h-6zM664 304h1v1h-1zM667 304h1v1h-1zM661 305h1v1h-1zM664 305h8v1h-8zM661 306h4v1h-4zM664 307h1v1h-1zM667 307h1v1h-1zM664 308h1v1h-1zM668 308h2v1h-2zM662 309h2v1h-2zM669 309h2v1h-2zM661 310h2v1h-2zM663 320h2v1h-2zM662 321h1v1h-1zM661 322h1v1h-1zM661 323h1v1h-1zM661 324h1v1h-1zM661 325h1v1h-1zM661 326h4v1h-4zM661 327h2v1h-2zM664 327h1v1h-1zM661 328h1v1h-1zM665 328h1v1h-1zM661 329h1v1h-1zM665 329h1v1h-1zM661 330h1v1h-1zM665 330h1v1h-1zM661 331h1v1h-1zM665 331h1v1h-1zM661 332h1v1h-1zM665 332h1v1h-1zM662 333h1v1h-1zM664 333h1v1h-1zM662 334h3v1h-3zM668 320h3v1h-3zM667 321h1v1h-1zM671 321h1v1h-1zM671 322h1v1h-1zM671 323h1v1h-1zM670 324h1v1h-1zM670 325h1v1h-1zM668 326h3v1h-3zM670 327h1v1h-1zM671 328h1v1h-1zM671 329h1v1h-1zM671 330h1v1h-1zM671 331h1v1h-1zM667 332h1v1h-1zM670 332h1v1h-1zM667 333h1v1h-1zM670 333h1v1h-1zM668 334h3v1h-3zM665 344h1v1h-1zM665 345h1v1h-1zM665 346h1v1h-1zM665 347h1v1h-1zM665 348h1v1h-1zM665 349h1v1h-1zM665 350h1v1h-1zM668 350h4v1h-4zM665 351h4v1h-4zM661 352h5v1h-5zM665 353h1v1h-1zM665 354h1v1h-1zM665 355h1v1h-1zM665 356h1v1h-1zM665 357h1v1h-1zM665 358h2v1h-2zM669 358h3v1h-3zM666 359h4v1h-4zM663 368h1v1h-1zM667 368h1v1h-1zM664 369h1v1h-1zM667 369h1v1h-1zM663 370h2v1h-2zM667 370h1v1h-1zM663 371h1v1h-1zM667 371h1v1h-1zM669 371h1v1h-1zM663 372h1v1h-1zM667 372h1v1h-1zM669 372h1v1h-1zM663 373h1v1h-1zM667 373h1v1h-1zM669 373h1v1h-1zM662 374h2v1h-2zM667 374h1v1h-1zM662 375h10v1h-10zM661 376h3v1h-3zM667 376h1v1h-1zM661 377h1v1h-1zM663 377h1v1h-1zM666 377h3v1h-3zM661 378h1v1h-1zM663 378h1v1h-1zM666 378h1v1h-1zM668 378h1v1h-1zM663 379h1v1h-1zM666 379h1v1h-1zM668 379h1v1h-1zM663 380h1v1h-1zM666 380h1v1h-1zM668 380h2v1h-2zM663 381h1v1h-1zM665 381h2v1h-2zM669 381h1v1h-1zM663 382h1v1h-1zM665 382h1v1h-1zM669 382h2v1h-2zM663 383h1v1h-1zM665 383h1v1h-1zM670 383h1v1h-1zM663 384h2v1h-2zM671 384h1v1h-1zM663 385h2v1h-2zM669 395h2v1h-2zM662 396h7v1h-7zM662 397h1v1h-1zM664 397h1v1h-1zM668 397h1v1h-1zM662 398h1v1h-1zM664 398h1v1h-1zM668 398h1v1h-1zM662 399h1v1h-1zM664 399h1v1h-1zM668 399h1v1h-1zM662 400h1v1h-1zM664 400h1v1h-1zM668 400h1v1h-1zM662 401h3v1h-3zM668 401h1v1h-1zM662 402h1v1h-1zM664 402h7v1h-7zM662 403h1v1h-1zM664 403h1v1h-1zM668 403h1v1h-1zM662 404h1v1h-1zM664 404h1v1h-1zM668 404h1v1h-1zM662 405h1v1h-1zM664 405h1v1h-1zM668 405h1v1h-1zM662 406h3v1h-3zM668 406h1v1h-1zM662 407h1v1h-1zM668 407h1v1h-1zM665 408h7v1h-7zM332 53h3v1h-3zM332 54h1v1h-1zM334 54h5v1h-5zM332 55h1v1h-1zM334 55h1v1h-1zM336 55h1v1h-1zM338 55h1v1h-1zM332 56h1v1h-1zM334 56h1v1h-1zM336 56h1v1h-1zM338 56h1v1h-1zM332 57h1v1h-1zM334 57h1v1h-1zM336 57h1v1h-1zM338 57h1v1h-1zM332 58h1v1h-1zM334 58h1v1h-1zM336 58h3v1h-3zM332 59h3v1h-3zM336 59h1v1h-1zM338 59h1v1h-1zM332 60h1v1h-1zM334 60h1v1h-1zM336 60h1v1h-1zM338 60h1v1h-1zM332 61h1v1h-1zM336 61h1v1h-1zM338 61h1v1h-1zM332 62h1v1h-1zM336 62h3v1h-3zM332 63h1v1h-1zM336 63h1v1h-1zM332 64h1v1h-1zM344 52h1v1h-1zM344 53h1v1h-1zM344 54h1v1h-1zM343 55h1v1h-1zM346 55h1v1h-1zM343 56h1v1h-1zM347 56h1v1h-1zM341 57h7v1h-7zM342 59h5v1h-5zM342 60h2v1h-2zM347 60h1v1h-1zM343 61h1v1h-1zM346 61h1v1h-1zM343 62h1v1h-1zM346 62h1v1h-1zM343 63h5v1h-5zM343 64h1v1h-1zM255 129h6v1h-6zM255 130h1v1h-1zM260 130h1v1h-1zM255 131h4v1h-4zM260 131h1v1h-1zM255 132h1v1h-1zM260 132h1v1h-1zM255 133h7v1h-7zM255 134h3v1h-3zM260 134h1v1h-1zM255 135h6v1h-6zM255 136h1v1h-1zM257 136h1v1h-1zM259 136h2v1h-2zM254 137h1v1h-1zM256 137h2v1h-2zM260 137h1v1h-1zM254 138h1v1h-1zM257 138h2v1h-2zM260 138h1v1h-1zM254 139h4v1h-4zM259 139h2v1h-2zM254 140h1v1h-1zM260 140h1v1h-1zM268 128h2v1h-2zM264 129h5v1h-5zM264 130h2v1h-2zM264 131h6v1h-6zM264 132h1v1h-1zM267 132h3v1h-3zM264 133h4v1h-4zM264 134h1v1h-1zM267 134h1v1h-1zM269 134h1v1h-1zM264 135h6v1h-6zM264 136h1v1h-1zM266 136h3v1h-3zM264 137h1v1h-1zM266 137h2v1h-2zM269 137h1v1h-1zM264 138h3v1h-3zM268 138h1v1h-1zM263 139h1v1h-1zM265 139h1v1h-1zM267 139h2v1h-2zM263 140h2v1h-2zM267 140h2v1h-2zM61 190h1v1h-1zM61 191h1v1h-1zM63 191h1v1h-1zM61 192h1v1h-1zM64 192h1v1h-1zM59 193h5v1h-5zM61 194h1v1h-1zM63 194h1v1h-1zM61 195h1v1h-1zM63 195h1v1h-1zM58 196h1v1h-1zM60 196h5v1h-5zM58 197h2v1h-2zM61 197h1v1h-1zM64 197h1v1h-1zM61 198h1v1h-1zM64 198h1v1h-1zM61 199h1v1h-1zM64 199h1v1h-1zM61 200h1v1h-1zM63 200h2v1h-2zM61 201h1v1h-1zM61 202h1v1h-1zM72 190h2v1h-2zM68 191h5v1h-5zM68 192h2v1h-2zM68 193h6v1h-6zM68 194h1v1h-1zM71 194h3v1h-3zM68 195h4v1h-4zM68 196h1v1h-1zM71 196h1v1h-1zM73 196h1v1h-1zM68 197h6v1h-6zM68 198h1v1h-1zM70 198h3v1h-3zM68 199h1v1h-1zM70 199h2v1h-2zM73 199h1v1h-1zM68 200h3v1h-3zM72 200h1v1h-1zM67 201h1v1h-1zM69 201h1v1h-1zM71 201h2v1h-2zM67 202h2v1h-2zM71 202h2v1h-2zM174 217h1v1h-1zM173 218h6v1h-6zM173 219h3v1h-3zM177 219h2v1h-2zM172 220h7v1h-7zM174 221h3v1h-3zM178 221h1v1h-1zM172 222h6v1h-6zM172 223h7v1h-7zM172 224h6v1h-6zM179 224h1v1h-1zM172 225h1v1h-1zM174 225h4v1h-4zM174 226h5v1h-5zM174 227h4v1h-4zM174 228h4v1h-4zM173 229h2v1h-2zM178 229h2v1h-2zM182 218h6v1h-6zM182 219h1v1h-1zM182 220h1v1h-1zM182 221h2v1h-2zM185 221h4v1h-4zM182 222h4v1h-4zM182 223h1v1h-1zM185 223h1v1h-1zM182 224h1v1h-1zM185 224h1v1h-1zM182 225h1v1h-1zM185 225h1v1h-1zM181 226h2v1h-2zM185 226h1v1h-1zM181 227h1v1h-1zM185 227h1v1h-1zM181 228h1v1h-1zM184 228h2v1h-2zM181 229h1v1h-1zM185 229h1v1h-1zM391 164h1v1h-1zM391 165h1v1h-1zM389 166h6v1h-6zM389 167h1v1h-1zM391 167h1v1h-1zM394 167h1v1h-1zM388 168h1v1h-1zM390 168h5v1h-5zM390 169h1v1h-1zM392 169h2v1h-2zM389 170h1v1h-1zM391 170h2v1h-2zM391 171h3v1h-3zM389 172h2v1h-2zM393 172h2v1h-2zM388 173h6v1h-6zM395 173h1v1h-1zM390 174h1v1h-1zM393 174h1v1h-1zM390 175h4v1h-4zM390 176h1v1h-1zM398 165h6v1h-6zM398 166h1v1h-1zM398 167h1v1h-1zM398 168h2v1h-2zM401 168h4v1h-4zM398 169h4v1h-4zM398 170h1v1h-1zM401 170h1v1h-1zM398 171h1v1h-1zM401 171h1v1h-1zM398 172h1v1h-1zM401 172h1v1h-1zM397 173h2v1h-2zM401 173h1v1h-1zM397 174h1v1h-1zM401 174h1v1h-1zM397 175h1v1h-1zM400 175h2v1h-2zM397 176h1v1h-1zM401 176h1v1h-1zM529 169h1v1h-1zM527 170h1v1h-1zM529 170h1v1h-1zM527 171h1v1h-1zM529 171h1v1h-1zM527 172h1v1h-1zM529 172h1v1h-1zM527 173h1v1h-1zM529 173h1v1h-1zM527 174h1v1h-1zM529 174h1v1h-1zM527 175h1v1h-1zM529 175h1v1h-1zM527 176h1v1h-1zM529 176h1v1h-1zM527 177h1v1h-1zM529 177h1v1h-1zM532 177h1v1h-1zM526 178h1v1h-1zM529 178h1v1h-1zM532 178h1v1h-1zM526 179h1v1h-1zM529 179h1v1h-1zM532 179h1v1h-1zM525 180h2v1h-2zM529 180h4v1h-4zM525 181h1v1h-1zM535 170h5v1h-5zM539 171h1v1h-1zM538 172h1v1h-1zM537 173h2v1h-2zM537 174h1v1h-1zM534 175h8v1h-8zM538 176h1v1h-1zM538 177h1v1h-1zM538 178h1v1h-1zM536 179h1v1h-1zM538 179h1v1h-1zM536 180h3v1h-3zM537 181h1v1h-1zM549 169h2v1h-2zM545 170h5v1h-5zM545 171h2v1h-2zM545 172h6v1h-6zM545 173h1v1h-1zM548 173h3v1h-3zM545 174h4v1h-4zM545 175h1v1h-1zM548 175h1v1h-1zM550 175h1v1h-1zM545 176h6v1h-6zM545 177h1v1h-1zM547 177h3v1h-3zM545 178h1v1h-1zM547 178h2v1h-2zM550 178h1v1h-1zM545 179h3v1h-3zM549 179h1v1h-1zM544 180h1v1h-1zM546 180h1v1h-1zM548 180h2v1h-2zM544 181h2v1h-2zM548 181h2v1h-2zM567 243h1v1h-1zM567 244h1v1h-1zM565 245h6v1h-6zM565 246h1v1h-1zM567 246h1v1h-1zM570 246h1v1h-1zM564 247h1v1h-1zM566 247h5v1h-5zM566 248h1v1h-1zM568 248h2v1h-2zM565 249h1v1h-1zM567 249h2v1h-2zM567 250h3v1h-3zM565 251h2v1h-2zM569 251h2v1h-2zM564 252h6v1h-6zM571 252h1v1h-1zM566 253h1v1h-1zM569 253h1v1h-1zM566 254h4v1h-4zM566 255h1v1h-1zM578 243h2v1h-2zM574 244h5v1h-5zM574 245h2v1h-2zM574 246h6v1h-6zM574 247h1v1h-1zM577 247h3v1h-3zM574 248h4v1h-4zM574 249h1v1h-1zM577 249h1v1h-1zM579 249h1v1h-1zM574 250h6v1h-6zM574 251h1v1h-1zM576 251h3v1h-3zM574 252h1v1h-1zM576 252h2v1h-2zM579 252h1v1h-1zM574 253h3v1h-3zM578 253h1v1h-1zM573 254h1v1h-1zM575 254h1v1h-1zM577 254h2v1h-2zM573 255h2v1h-2zM577 255h2v1h-2zM259 347h1v1h-1zM256 348h1v1h-1zM258 348h2v1h-2zM256 349h1v1h-1zM258 349h2v1h-2zM258 350h4v1h-4zM255 351h1v1h-1zM258 351h2v1h-2zM256 352h2v1h-2zM259 352h1v1h-1zM257 353h6v1h-6zM256 354h1v1h-1zM259 354h2v1h-2zM256 355h1v1h-1zM258 355h1v1h-1zM260 355h1v1h-1zM256 356h1v1h-1zM258 356h1v1h-1zM260 356h1v1h-1zM262 356h1v1h-1zM255 357h2v1h-2zM258 357h1v1h-1zM260 357h1v1h-1zM262 357h1v1h-1zM255 358h1v1h-1zM257 358h1v1h-1zM260 358h3v1h-3zM256 359h2v1h-2zM267 348h3v1h-3zM265 349h3v1h-3zM267 350h1v1h-1zM265 351h6v1h-6zM268 352h1v1h-1zM268 353h1v1h-1zM264 354h8v1h-8zM268 355h1v1h-1zM268 356h1v1h-1zM268 357h1v1h-1zM266 358h3v1h-3zM267 359h1v1h-1zM273 348h1v1h-1zM275 348h4v1h-4zM274 349h1v1h-1zM278 349h1v1h-1zM272 350h2v1h-2zM278 350h1v1h-1zM273 351h6v1h-6zM273 352h2v1h-2zM277 352h2v1h-2zM273 353h6v1h-6zM273 354h2v1h-2zM276 354h1v1h-1zM278 354h1v1h-1zM273 355h2v1h-2zM276 355h1v1h-1zM278 355h1v1h-1zM273 356h6v1h-6zM273 357h1v1h-1zM278 357h1v1h-1zM273 358h1v1h-1zM277 358h2v1h-2zM273 359h1v1h-1zM278 359h1v1h-1zM327 356h1v1h-1zM327 357h1v1h-1zM325 358h6v1h-6zM325 359h1v1h-1zM327 359h1v1h-1zM330 359h1v1h-1zM324 360h1v1h-1zM326 360h5v1h-5zM326 361h1v1h-1zM328 361h2v1h-2zM325 362h1v1h-1zM327 362h2v1h-2zM327 363h3v1h-3zM325 364h2v1h-2zM329 364h2v1h-2zM324 365h6v1h-6zM331 365h1v1h-1zM326 366h1v1h-1zM329 366h1v1h-1zM326 367h4v1h-4zM326 368h1v1h-1zM338 356h2v1h-2zM334 357h5v1h-5zM334 358h2v1h-2zM334 359h6v1h-6zM334 360h1v1h-1zM337 360h3v1h-3zM334 361h4v1h-4zM334 362h1v1h-1zM337 362h1v1h-1zM339 362h1v1h-1zM334 363h6v1h-6zM334 364h1v1h-1zM336 364h3v1h-3zM334 365h1v1h-1zM336 365h2v1h-2zM339 365h1v1h-1zM334 366h3v1h-3zM338 366h1v1h-1zM333 367h1v1h-1zM335 367h1v1h-1zM337 367h2v1h-2zM333 368h2v1h-2zM337 368h2v1h-2zM269 420h7v1h-7zM269 421h1v1h-1zM274 421h1v1h-1zM269 422h4v1h-4zM274 422h1v1h-1zM269 423h6v1h-6zM269 424h6v1h-6zM269 425h6v1h-6zM269 426h6v1h-6zM268 427h1v1h-1zM270 427h5v1h-5zM268 428h1v1h-1zM270 428h3v1h-3zM274 428h1v1h-1zM268 429h1v1h-1zM270 429h3v1h-3zM274 429h1v1h-1zM268 430h1v1h-1zM270 430h1v1h-1zM272 430h3v1h-3zM268 431h2v1h-2zM274 431h1v1h-1zM283 419h1v1h-1zM279 420h2v1h-2zM282 420h2v1h-2zM278 421h2v1h-2zM281 421h2v1h-2zM278 422h1v1h-1zM281 422h1v1h-1zM278 423h4v1h-4zM278 424h1v1h-1zM280 424h5v1h-5zM278 425h4v1h-4zM283 425h1v1h-1zM278 426h1v1h-1zM281 426h1v1h-1zM283 426h1v1h-1zM278 427h1v1h-1zM281 427h1v1h-1zM283 427h1v1h-1zM277 428h1v1h-1zM280 428h2v1h-2zM283 428h1v1h-1zM277 429h1v1h-1zM280 429h1v1h-1zM283 429h1v1h-1zM277 430h1v1h-1zM280 430h1v1h-1zM283 430h1v1h-1zM283 431h1v1h-1zM493 381h2v1h-2zM494 382h2v1h-2zM495 383h1v1h-1zM492 384h6v1h-6zM494 385h1v1h-1zM494 386h1v1h-1zM494 387h1v1h-1zM492 388h6v1h-6zM494 389h1v1h-1zM494 390h1v1h-1zM494 391h1v1h-1zM491 392h8v1h-8zM503 382h1v1h-1zM503 383h1v1h-1zM503 384h1v1h-1zM503 385h1v1h-1zM503 386h1v1h-1zM503 387h2v1h-2zM502 388h3v1h-3zM502 389h1v1h-1zM505 389h1v1h-1zM502 390h1v1h-1zM505 390h1v1h-1zM501 391h1v1h-1zM506 391h1v1h-1zM500 392h2v1h-2zM506 392h2v1h-2zM500 393h1v1h-1zM514 381h2v1h-2zM510 382h5v1h-5zM510 383h2v1h-2zM510 384h6v1h-6zM510 385h1v1h-1zM513 385h3v1h-3zM510 386h4v1h-4zM510 387h1v1h-1zM513 387h1v1h-1zM515 387h1v1h-1zM510 388h6v1h-6zM510 389h1v1h-1zM512 389h3v1h-3zM510 390h1v1h-1zM512 390h2v1h-2zM515 390h1v1h-1zM510 391h3v1h-3zM514 391h1v1h-1zM509 392h1v1h-1zM511 392h1v1h-1zM513 392h2v1h-2zM509 393h2v1h-2zM513 393h2v1h-2zM581 351h1v1h-1zM578 352h1v1h-1zM580 352h2v1h-2zM578 353h1v1h-1zM580 353h2v1h-2zM580 354h4v1h-4zM577 355h1v1h-1zM580 355h2v1h-2zM578 356h2v1h-2zM581 356h1v1h-1zM579 357h6v1h-6zM578 358h1v1h-1zM581 358h2v1h-2zM578 359h1v1h-1zM580 359h1v1h-1zM582 359h1v1h-1zM578 360h1v1h-1zM580 360h1v1h-1zM582 360h1v1h-1zM584 360h1v1h-1zM577 361h2v1h-2zM580 361h1v1h-1zM582 361h1v1h-1zM584 361h1v1h-1zM577 362h1v1h-1zM579 362h1v1h-1zM582 362h3v1h-3zM578 363h2v1h-2zM589 352h3v1h-3zM587 353h3v1h-3zM589 354h1v1h-1zM587 355h6v1h-6zM590 356h1v1h-1zM590 357h1v1h-1zM586 358h8v1h-8zM590 359h1v1h-1zM590 360h1v1h-1zM590 361h1v1h-1zM588 362h3v1h-3zM589 363h1v1h-1zM595 352h1v1h-1zM597 352h4v1h-4zM596 353h1v1h-1zM600 353h1v1h-1zM594 354h2v1h-2zM600 354h1v1h-1zM595 355h6v1h-6zM595 356h2v1h-2zM599 356h2v1h-2zM595 357h6v1h-6zM595 358h2v1h-2zM598 358h1v1h-1zM600 358h1v1h-1zM595 359h2v1h-2zM598 359h1v1h-1zM600 359h1v1h-1zM595 360h6v1h-6zM595 361h1v1h-1zM600 361h1v1h-1zM595 362h1v1h-1zM599 362h2v1h-2zM595 363h1v1h-1zM600 363h1v1h-1zM592 422h6v1h-6zM594 423h1v1h-1zM597 423h1v1h-1zM594 424h1v1h-1zM597 424h1v1h-1zM594 425h1v1h-1zM597 425h1v1h-1zM594 426h1v1h-1zM597 426h1v1h-1zM594 427h4v1h-4zM594 428h1v1h-1zM596 428h1v1h-1zM594 429h1v1h-1zM594 430h1v1h-1zM591 431h8v1h-8zM603 420h1v1h-1zM603 421h1v1h-1zM602 422h2v1h-2zM602 423h2v1h-2zM601 424h6v1h-6zM601 425h1v1h-1zM603 425h1v1h-1zM601 426h1v1h-1zM603 426h1v1h-1zM601 427h5v1h-5zM603 428h1v1h-1zM603 429h1v1h-1zM603 430h1v1h-1zM600 431h8v1h-8zM609 421h1v1h-1zM611 421h4v1h-4zM610 422h1v1h-1zM614 422h1v1h-1zM608 423h2v1h-2zM614 423h1v1h-1zM609 424h6v1h-6zM609 425h2v1h-2zM613 425h2v1h-2zM609 426h6v1h-6zM609 427h2v1h-2zM612 427h1v1h-1zM614 427h1v1h-1zM609 428h2v1h-2zM612 428h1v1h-1zM614 428h1v1h-1zM609 429h6v1h-6zM609 430h1v1h-1zM614 430h1v1h-1zM609 431h1v1h-1zM613 431h2v1h-2zM609 432h1v1h-1zM614 432h1v1h-1zM510 119h3v1h-3zM510 120h1v1h-1zM512 120h1v1h-1zM510 121h1v1h-1zM513 121h1v1h-1zM510 122h1v1h-1zM513 122h1v1h-1zM510 123h4v1h-4zM512 124h1v1h-1zM512 125h1v1h-1zM511 126h1v1h-1zM511 127h1v1h-1zM510 128h1v1h-1zM515 119h2v1h-2zM514 120h1v1h-1zM514 121h1v1h-1zM514 122h1v1h-1zM514 123h3v1h-3zM514 124h1v1h-1zM517 124h1v1h-1zM514 125h1v1h-1zM517 125h1v1h-1zM514 126h1v1h-1zM517 126h1v1h-1zM514 127h1v1h-1zM517 127h1v1h-1zM515 128h2v1h-2zM525 116h3v1h-3zM525 117h1v1h-1zM528 117h1v1h-1zM528 118h1v1h-1zM528 119h1v1h-1zM527 120h1v1h-1zM527 121h1v1h-1zM526 122h1v1h-1zM526 123h1v1h-1zM525 124h1v1h-1zM525 125h4v1h-4zM529 116h3v1h-3zM529 117h1v1h-1zM531 117h1v1h-1zM529 118h1v1h-1zM531 118h1v1h-1zM529 119h1v1h-1zM531 119h1v1h-1zM530 120h1v1h-1zM529 121h1v1h-1zM531 121h1v1h-1zM529 122h1v1h-1zM532 122h1v1h-1zM529 123h1v1h-1zM532 123h1v1h-1zM529 124h1v1h-1zM531 124h1v1h-1zM529 125h3v1h-3zM499 132h1v1h-1zM499 133h1v1h-1zM498 134h2v1h-2zM498 135h2v1h-2zM498 136h2v1h-2zM497 137h1v1h-1zM499 137h1v1h-1zM497 138h4v1h-4zM499 139h1v1h-1zM499 140h1v1h-1zM499 141h1v1h-1zM502 132h1v1h-1zM501 133h2v1h-2zM502 134h1v1h-1zM502 135h1v1h-1zM502 136h1v1h-1zM502 137h1v1h-1zM502 138h1v1h-1zM502 139h1v1h-1zM502 140h1v1h-1zM502 141h1v1h-1zM499 147h3v1h-3zM502 148h1v1h-1zM502 149h1v1h-1zM501 150h1v1h-1zM500 151h2v1h-2zM502 152h1v1h-1zM502 153h1v1h-1zM499 154h1v1h-1zM502 154h1v1h-1zM499 155h1v1h-1zM501 155h1v1h-1zM499 156h3v1h-3zM503 147h3v1h-3zM503 148h1v1h-1zM505 148h1v1h-1zM503 149h1v1h-1zM506 149h1v1h-1zM503 150h1v1h-1zM506 150h1v1h-1zM503 151h4v1h-4zM505 152h1v1h-1zM505 153h1v1h-1zM504 154h1v1h-1zM504 155h1v1h-1zM503 156h1v1h-1zM512 158h3v1h-3zM512 159h1v1h-1zM514 159h1v1h-1zM512 160h1v1h-1zM514 160h1v1h-1zM512 161h1v1h-1zM514 161h1v1h-1zM513 162h1v1h-1zM512 163h1v1h-1zM514 163h1v1h-1zM512 164h1v1h-1zM515 164h1v1h-1zM512 165h1v1h-1zM515 165h1v1h-1zM512 166h1v1h-1zM514 166h1v1h-1zM512 167h3v1h-3zM516 158h4v1h-4zM516 159h1v1h-1zM516 160h1v1h-1zM516 161h2v1h-2zM516 162h1v1h-1zM518 162h1v1h-1zM519 163h1v1h-1zM519 164h1v1h-1zM516 165h1v1h-1zM519 165h1v1h-1zM516 166h1v1h-1zM518 166h1v1h-1zM516 167h3v1h-3zM528 157h1v1h-1zM527 158h2v1h-2zM528 159h1v1h-1zM528 160h1v1h-1zM528 161h1v1h-1zM528 162h1v1h-1zM528 163h1v1h-1zM528 164h1v1h-1zM528 165h1v1h-1zM528 166h1v1h-1zM531 157h4v1h-4zM534 158h1v1h-1zM534 159h1v1h-1zM533 160h1v1h-1zM533 161h1v1h-1zM533 162h1v1h-1zM533 163h1v1h-1zM532 164h1v1h-1zM532 165h1v1h-1zM532 166h1v1h-1zM538 128h4v1h-4zM541 129h1v1h-1zM541 130h1v1h-1zM540 131h1v1h-1zM540 132h1v1h-1zM540 133h1v1h-1zM540 134h1v1h-1zM539 135h1v1h-1zM539 136h1v1h-1zM539 137h1v1h-1zM544 128h1v1h-1zM544 129h1v1h-1zM543 130h2v1h-2zM543 131h2v1h-2zM543 132h2v1h-2zM542 133h1v1h-1zM544 133h1v1h-1zM542 134h4v1h-4zM544 135h1v1h-1zM544 136h1v1h-1zM544 137h1v1h-1zM540 143h2v1h-2zM539 144h1v1h-1zM539 145h1v1h-1zM539 146h1v1h-1zM539 147h3v1h-3zM539 148h1v1h-1zM542 148h1v1h-1zM539 149h1v1h-1zM542 149h1v1h-1zM539 150h1v1h-1zM542 150h1v1h-1zM539 151h1v1h-1zM542 151h1v1h-1zM540 152h2v1h-2zM543 143h3v1h-3zM546 144h1v1h-1zM546 145h1v1h-1zM545 146h1v1h-1zM544 147h2v1h-2zM546 148h1v1h-1zM546 149h1v1h-1zM543 150h1v1h-1zM546 150h1v1h-1zM543 151h1v1h-1zM545 151h1v1h-1zM543 152h3v1h-3z"/>
<path d="M521.90 142.80 L576.00 138.16" fill="none" stroke="#00ff00" stroke-width="1"/>
<path d="M521.90 142.80 L576.00 78.55" fill="none" stroke="#00ff00" stroke-width="1"/>
<path d="M521.90 142.80 L516.26 77.00" fill="none" stroke="#00ff00" stroke-width="1"/>
<path d="M521.90 142.80 L467.00 96.57" fill="none" stroke="#00ff00" stroke-width="1"/>
<path d="M521.90 142.80 L467.00 147.51" fill="none" stroke="#00ff00" stroke-width="1"/>
<path d="M521.90 142.80 L467.00 208.00" fill="none" stroke="#00ff00" stroke-width="1"/>
<path d="M521.90 142.80 L527.49 208.00" fill="none" stroke="#00ff00" stroke-width="1"/>
<path d="M521.90 142.80 L576.00 188.36" fill="none" stroke="#00ff00" stroke-width="1"/>
<path d="M315.50 104.50 L314.70 105.00 L313.95 105.50 L313.30 106.00 L312.78 106.50 L312.45 107.00 L312.30 107.50 L312.37 108.00 L312.63 108.50 L313.07 109.00 L313.67 109.50 L314.39 110.00 L315.18 110.50 L315.02 111.00 L314.24 111.50 L313.54 112.00 L312.97 112.50 L312.56 113.00 L312.34 113.50 L312.32 114.00 L312.50 114.50 L312.87 115.00 L313.42 115.50 L314.09 116.00 L314.86 116.50 L315.34 117.00 L314.54 117.50 L313.81 118.00 L313.18 118.50 L312.70 119.00 L312.40 119.50 L312.30 120.00 L312.40 120.50 L312.70 121.00 L313.18 121.50 L313.81 122.00 L314.54 122.50 L315.34 123.00 L314.86 123.50" fill="none" stroke="#00ff00" stroke-width="1"/>
<path d="M315.50 123.50 L314.70 124.00 L313.95 124.50 L313.30 125.00 L312.78 125.50 L312.45 126.00 L312.30 126.50 L312.37 127.00 L312.63 127.50 L313.07 128.00 L313.67 128.50 L314.39 129.00 L315.18 129.50 L315.02 130.00 L314.24 130.50 L313.54 131.00 L312.97 131.50 L312.56 132.00 L312.34 132.50 L312.32 133.00 L312.50 133.50 L312.87 134.00 L313.42 134.50 L314.09 135.00 L314.86 135.50 L315.34 136.00 L314.54 136.50 L313.81 137.00 L313.18 137.50 L312.70 138.00 L312.40 138.50 L312.30 139.00 L312.40 139.50 L312.70 140.00 L313.18 140.50 L313.81 141.00 L314.54 141.50 L315.34 142.00 L314.86 142.50" fill="none" stroke="#00ff00" stroke-width="1"/>
<path d="M315.50 142.50 L314.70 143.00 L313.95 143.50 L313.30 144.00 L312.78 144.50 L312.45 145.00 L312.30 145.50 L312.37 146.00 L312.63 146.50 L313.07 147.00 L313.67 147.50 L314.39 148.00 L315.18 148.50 L315.02 149.00 L314.24 149.50 L313.54 150.00 L312.97 150.50 L312.56 151.00 L312.34 151.50 L312.32 152.00 L312.50 152.50 L312.87 153.00 L313.42 153.50 L314.09 154.00 L314.86 154.50 L315.34 155.00 L314.54 155.50 L313.81 156.00 L313.18 156.50 L312.70 157.00 L312.40 157.50 L312.30 158.00 L312.40 158.50 L312.70 159.00 L313.18 159.50 L313.81 160.00 L314.54 160.50" fill="none" stroke="#00ff00" stroke-width="1"/>
<path d="M315.50 160.50 L314.70 161.00 L313.95 161.50 L313.30 162.00 L312.78 162.50 L312.45 163.00 L312.30 163.50 L312.37 164.00 L312.63 164.50 L313.07 165.00 L313.67 165.50 L314.39 166.00 L315.18 166.50 L315.02 167.00 L314.24 167.50 L313.54 168.00 L312.97 168.50 L312.56 169.00 L312.34 169.50 L312.32 170.00 L312.50 170.50 L312.87 171.00 L313.42 171.50 L314.09 172.00 L314.86 172.50 L315.34 173.00 L314.54 173.50 L313.81 174.00 L313.18 174.50 L312.70 175.00 L312.40 175.50 L312.30 176.00 L312.40 176.50 L312.70 177.00 L313.18 177.50 L313.81 178.00 L314.54 178.50" fill="none" stroke="#00ff00" stroke-width="1"/>
<path fill="#000000" d="M546 330h6v29h-6zM367 89h29v10h-29zM187 164h30v10h-30zM103 175h11v29h-11zM467 208h30v10h-30zM243 319h29v11h-29zM365 319h30v11h-30zM405 319h30v11h-30z"/>
<path fill="#ff00ff" d="M124 214h13v2h-13zM124 214h1v14h-1zM136 214h1v14h-1zM146 214h13v2h-13zM146 214h1v14h-1zM158 214h1v14h-1zM124 271h13v2h-13zM124 259h1v14h-1zM136 259h1v14h-1zM146 271h13v2h-13zM146 259h1v14h-1zM158 259h1v14h-1z"/>
<path fill="#808080" d="M244 77h1v15h-1z"/>
<path d="M495.5 95.5 Q486.5 98.5 486.5 115.5 L486.5 149.5" fill="none" stroke="#00ffff" stroke-width="1"/>
<path d="M502.0 96.5 Q489.5 100.5 489.5 119.5 L489.5 149.5" fill="none" stroke="#00ffff" stroke-width="1"/>
<path d="M332.5 388.5 Q323.5 391.5 323.5 408.5 L323.5 441.5" fill="none" stroke="#00ffff" stroke-width="1"/>
<path d="M339.0 389.5 Q326.5 393.5 326.5 412.5 L326.5 441.5" fill="none" stroke="#00ffff" stroke-width="1"/>
<path d="M433.5 388.5 Q424.5 391.5 424.5 408.5 L424.5 441.5" fill="none" stroke="#00ffff" stroke-width="1"/>
<path d="M439.0 389.5 Q426.5 393.5 426.5 412.5 L426.5 441.5" fill="none" stroke="#00ffff" stroke-width="1"/>
<path d="M451.50 147.50 L456.50 152.50" fill="none" stroke="#ffff00" stroke-width="1"/>
<path d="M451.50 170.50 L456.50 165.50" fill="none" stroke="#ffff00" stroke-width="1"/>
<path d="M250.50 443.50 L257.50 440.50 L264.50 439.50 L272.50 447.50 L269.50 452.00 L264.50 455.50 L257.50 455.00 L250.50 452.50" fill="none" stroke="#00ffff" stroke-width="1"/>
<path d="M254.50 444.00 L254.50 452.00 L261.50 453.00 L267.50 450.00 L269.50 447.50 L264.50 442.50 L254.50 444.00" fill="none" stroke="#00ffff" stroke-width="1"/>
<path d="M608.00 461.50 L606.00 448.50 L613.50 439.50 L621.00 448.50 L619.00 461.50" fill="none" stroke="#00ffff" stroke-width="1"/>
<path d="M609.50 460.50 L607.50 449.50 L613.50 442.00 L619.50 449.50 L617.50 460.50" fill="none" stroke="#00ffff" stroke-width="1"/>
<path d="M608.5 455.5 Q613.5 458.5 618.5 455.5" fill="none" stroke="#00ffff" stroke-width="1"/>
<path d="M55.90 217.60 L78.00 217.60 L80.50 221.10 L82.00 228.50 L83.60 235.50 L84.00 243.00 L82.40 250.50 L81.10 258.00 L79.50 267.40 L55.90 267.40 L54.50 264.20 L54.50 255.50 L56.10 253.50 L56.10 232.50 L54.50 229.90 L53.60 219.90 Z" fill="none" stroke="#00ffff" stroke-width="1"/>
<path d="M57.10 218.90 L77.20 218.90 L79.30 221.90 L80.70 228.70 L82.30 235.70 L82.70 243.00 L81.10 250.30 L79.80 257.80 L78.40 266.10 L56.90 266.10 L55.90 263.80 L55.90 255.90 L57.50 253.90 L57.50 232.10 L55.90 229.50 L55.10 220.30 Z" fill="none" stroke="#808080" stroke-width="1"/>
<path d="M55.5 232.5 L46 232 Q33 233.5 33 243.5 Q33 253.5 46 254.5 L55.5 254.5" fill="none" stroke="#00ffff" stroke-width="1"/>
<path d="M55.5 234 L46.5 233.6 Q35 235 35 243.5 Q35 252 46.5 253 L55.5 253" fill="none" stroke="#00ffff" stroke-width="1"/>
<path d="M65.50 233.50 L71.50 233.50 L75.50 229.50" fill="none" stroke="#ffff00" stroke-width="2"/>
<path d="M123.50 231.50 L160.50 231.50 L164.50 235.50 L164.50 252.50 L160.50 256.50 L123.50 256.50 L119.50 252.50 L119.50 235.50 Z" fill="none" stroke="#ff0000" stroke-width="1"/>
<path d="M124.00 232.50 L160.00 232.50 L163.50 236.00 L163.50 252.00 L160.00 255.50 L124.00 255.50 L120.50 252.00 L120.50 236.00 Z" fill="none" stroke="#c0c0c0" stroke-width="1"/>
<path d="M124.50 213.50 L137.50 213.50 L140.00 225.50 L140.00 228.50 L137.50 229.50 L124.50 229.50 L122.00 228.50 L122.00 225.50 Z" fill="none" stroke="#ff0000" stroke-width="1"/>
<path d="M146.50 213.50 L159.50 213.50 L162.00 225.50 L162.00 228.50 L159.50 229.50 L146.50 229.50 L144.00 228.50 L144.00 225.50 Z" fill="none" stroke="#ff0000" stroke-width="1"/>
<path d="M124.50 273.50 L137.50 273.50 L140.00 261.50 L140.00 258.50 L137.50 257.50 L124.50 257.50 L122.00 258.50 L122.00 261.50 Z" fill="none" stroke="#ff0000" stroke-width="1"/>
<path d="M146.50 273.50 L159.50 273.50 L162.00 261.50 L162.00 258.50 L159.50 257.50 L146.50 257.50 L144.00 258.50 L144.00 261.50 Z" fill="none" stroke="#ff0000" stroke-width="1"/>
<path d="M330.5 183.5 H313.5 A6 6 0 0 1 307.5 177.5 V105.5 A6 6 0 0 1 313.5 99.5 H330.5" fill="none" stroke="#ff0000" stroke-width="1"/>
<path d="M330.50 99.50 L330.50 104.50 L330.50 104.50 L331.09 105.00 L331.39 105.50 L331.63 106.00 L331.84 106.50 L332.02 107.00 L332.18 107.50 L332.33 108.00 L332.46 108.50 L332.58 109.00 L332.68 109.50 L332.78 110.00 L332.86 110.50 L332.92 111.00 L332.98 111.50 L333.03 112.00 L333.06 112.50 L333.09 113.00 L333.10 113.50 L333.10 114.00 L333.09 114.50 L333.07 115.00 L333.04 115.50 L332.99 116.00 L332.94 116.50 L332.87 117.00 L332.79 117.50 L332.70 118.00 L332.60 118.50 L332.49 119.00 L332.36 119.50 L332.22 120.00 L332.06 120.50 L331.88 121.00 L331.68 121.50 L331.44 122.00 L331.16 122.50 L330.72 123.00 L331.02 123.50 L331.34 124.00 L331.59 124.50 L331.80 125.00 L331.99 125.50 L332.15 126.00 L332.30 126.50 L332.44 127.00 L332.56 127.50 L332.66 128.00 L332.76 128.50 L332.84 129.00 L332.91 129.50 L332.97 130.00 L333.02 130.50 L333.06 131.00 L333.08 131.50 L333.10 132.00 L333.10 132.50 L333.09 133.00 L333.07 133.50 L333.04 134.00 L333.00 134.50 L332.95 135.00 L332.89 135.50 L332.81 136.00 L332.72 136.50 L332.62 137.00 L332.51 137.50 L332.38 138.00 L332.25 138.50 L332.09 139.00 L331.92 139.50 L331.72 140.00 L331.49 140.50 L331.22 141.00 L330.84 141.50 L330.93 142.00 L331.28 142.50 L331.54 143.00 L331.76 143.50 L331.95 144.00 L332.12 144.50 L332.27 145.00 L332.41 145.50 L332.53 146.00 L332.64 146.50 L332.74 147.00 L332.83 147.50 L332.90 148.00 L332.96 148.50 L333.01 149.00 L333.05 149.50 L333.08 150.00 L333.09 150.50 L333.10 151.00 L333.09 151.50 L333.08 152.00 L333.05 152.50 L333.01 153.00 L332.96 153.50 L332.90 154.00 L332.83 154.50 L332.74 155.00 L332.64 155.50 L332.53 156.00 L332.41 156.50 L332.27 157.00 L332.12 157.50 L331.95 158.00 L331.76 158.50 L331.54 159.00 L331.28 159.50 L330.93 160.00 L330.84 160.50 L331.22 161.00 L331.49 161.50 L331.72 162.00 L331.92 162.50 L332.09 163.00 L332.25 163.50 L332.38 164.00 L332.51 164.50 L332.62 165.00 L332.72 165.50 L332.81 166.00 L332.89 166.50 L332.95 167.00 L333.00 167.50 L333.04 168.00 L333.07 168.50 L333.09 169.00 L333.10 169.50 L333.10 170.00 L333.08 170.50 L333.06 171.00 L333.02 171.50 L332.97 172.00 L332.91 172.50 L332.84 173.00 L332.76 173.50 L332.66 174.00 L332.56 174.50 L332.44 175.00 L332.30 175.50 L332.15 176.00 L331.99 176.50 L331.80 177.00 L331.59 177.50 L331.34 178.00 L331.02 178.50 L330.50 178.50 L330.50 183.50" fill="none" stroke="#ff0000" stroke-width="1"/>
<circle cx="476.0" cy="86.0" r="3.8" fill="none" stroke="#00ffff" stroke-width="1.3" shape-rendering="geometricPrecision"/>
<circle cx="476.0" cy="86.0" r="1.6" fill="#00ffff" shape-rendering="geometricPrecision"/>
<circle cx="476.0" cy="159.5" r="3.8" fill="none" stroke="#00ffff" stroke-width="1.3" shape-rendering="geometricPrecision"/>
<circle cx="476.0" cy="159.5" r="1.6" fill="#00ffff" shape-rendering="geometricPrecision"/>
<circle cx="314.5" cy="378.5" r="3.8" fill="none" stroke="#00ffff" stroke-width="1.3" shape-rendering="geometricPrecision"/>
<circle cx="314.5" cy="378.5" r="1.6" fill="#00ffff" shape-rendering="geometricPrecision"/>
<circle cx="313.5" cy="450.5" r="3.8" fill="none" stroke="#00ffff" stroke-width="1.3" shape-rendering="geometricPrecision"/>
<circle cx="313.5" cy="450.5" r="1.6" fill="#00ffff" shape-rendering="geometricPrecision"/>
<circle cx="414.5" cy="378.5" r="3.8" fill="none" stroke="#00ffff" stroke-width="1.3" shape-rendering="geometricPrecision"/>
<circle cx="414.5" cy="378.5" r="1.6" fill="#00ffff" shape-rendering="geometricPrecision"/>
<circle cx="414.5" cy="451.5" r="3.8" fill="none" stroke="#00ffff" stroke-width="1.3" shape-rendering="geometricPrecision"/>
<circle cx="414.5" cy="451.5" r="1.6" fill="#00ffff" shape-rendering="geometricPrecision"/>
<clipPath id="bk269"><rect x="558" y="271" width="59" height="12"/></clipPath>
<circle cx="565.5" cy="277" r="5.3" fill="none" stroke="#000" stroke-width="0.9" shape-rendering="geometricPrecision" clip-path="url(#bk269)"/>
<circle cx="571.0" cy="277" r="5.3" fill="none" stroke="#000" stroke-width="0.9" shape-rendering="geometricPrecision" clip-path="url(#bk269)"/>
<circle cx="576.5" cy="277" r="5.3" fill="none" stroke="#000" stroke-width="0.9" shape-rendering="geometricPrecision" clip-path="url(#bk269)"/>
<circle cx="582.0" cy="277" r="5.3" fill="none" stroke="#000" stroke-width="0.9" shape-rendering="geometricPrecision" clip-path="url(#bk269)"/>
<circle cx="587.5" cy="277" r="5.3" fill="none" stroke="#000" stroke-width="0.9" shape-rendering="geometricPrecision" clip-path="url(#bk269)"/>
<circle cx="593.0" cy="277" r="5.3" fill="none" stroke="#000" stroke-width="0.9" shape-rendering="geometricPrecision" clip-path="url(#bk269)"/>
<circle cx="598.5" cy="277" r="5.3" fill="none" stroke="#000" stroke-width="0.9" shape-rendering="geometricPrecision" clip-path="url(#bk269)"/>
<circle cx="604.0" cy="277" r="5.3" fill="none" stroke="#000" stroke-width="0.9" shape-rendering="geometricPrecision" clip-path="url(#bk269)"/>
<circle cx="609.5" cy="277" r="5.3" fill="none" stroke="#000" stroke-width="0.9" shape-rendering="geometricPrecision" clip-path="url(#bk269)"/>
<circle cx="615.0" cy="277" r="5.3" fill="none" stroke="#000" stroke-width="0.9" shape-rendering="geometricPrecision" clip-path="url(#bk269)"/>
<clipPath id="bk299"><rect x="558" y="301" width="59" height="12"/></clipPath>
<circle cx="565.5" cy="307" r="5.3" fill="none" stroke="#000" stroke-width="0.9" shape-rendering="geometricPrecision" clip-path="url(#bk299)"/>
<circle cx="571.0" cy="307" r="5.3" fill="none" stroke="#000" stroke-width="0.9" shape-rendering="geometricPrecision" clip-path="url(#bk299)"/>
<circle cx="576.5" cy="307" r="5.3" fill="none" stroke="#000" stroke-width="0.9" shape-rendering="geometricPrecision" clip-path="url(#bk299)"/>
<circle cx="582.0" cy="307" r="5.3" fill="none" stroke="#000" stroke-width="0.9" shape-rendering="geometricPrecision" clip-path="url(#bk299)"/>
<circle cx="587.5" cy="307" r="5.3" fill="none" stroke="#000" stroke-width="0.9" shape-rendering="geometricPrecision" clip-path="url(#bk299)"/>
<circle cx="593.0" cy="307" r="5.3" fill="none" stroke="#000" stroke-width="0.9" shape-rendering="geometricPrecision" clip-path="url(#bk299)"/>
<circle cx="598.5" cy="307" r="5.3" fill="none" stroke="#000" stroke-width="0.9" shape-rendering="geometricPrecision" clip-path="url(#bk299)"/>
<circle cx="604.0" cy="307" r="5.3" fill="none" stroke="#000" stroke-width="0.9" shape-rendering="geometricPrecision" clip-path="url(#bk299)"/>
<circle cx="609.5" cy="307" r="5.3" fill="none" stroke="#000" stroke-width="0.9" shape-rendering="geometricPrecision" clip-path="url(#bk299)"/>
<circle cx="615.0" cy="307" r="5.3" fill="none" stroke="#000" stroke-width="0.9" shape-rendering="geometricPrecision" clip-path="url(#bk299)"/>
<ellipse cx="226.5" cy="83.6" rx="3.6" ry="3.9" fill="#ffff00" shape-rendering="geometricPrecision"/>
<path d="M224.7 81.8 L228.3 85.4 M228.3 81.8 L224.7 85.4" stroke="#444" stroke-width="0.8" fill="none" shape-rendering="geometricPrecision"/>
<circle cx="226.5" cy="83.6" r="2.2" fill="none" stroke="#553" stroke-width="0.6" shape-rendering="geometricPrecision"/>
<ellipse cx="238.8" cy="83.6" rx="3.6" ry="3.9" fill="#ffff00" shape-rendering="geometricPrecision"/>
<path d="M237.0 81.8 L240.60000000000002 85.4 M240.60000000000002 81.8 L237.0 85.4" stroke="#444" stroke-width="0.8" fill="none" shape-rendering="geometricPrecision"/>
<circle cx="238.8" cy="83.6" r="2.2" fill="none" stroke="#553" stroke-width="0.6" shape-rendering="geometricPrecision"/>
<rect x="263.5" y="80.5" width="15" height="12" rx="1.5" fill="none" stroke="#00ff00" stroke-width="1"/>
<circle cx="271" cy="87.5" r="1.3" fill="none" stroke="#00ff00" stroke-width="1"/>
<rect x="243.5" y="368.5" width="17" height="14" rx="2" fill="none" stroke="#00ff00" stroke-width="1"/>
<rect x="553.5" y="368.5" width="17" height="14" rx="2" fill="none" stroke="#00ff00" stroke-width="1"/>
<rect x="39.5" y="239" width="11" height="9" rx="4" fill="#808080" stroke="#ffff00" stroke-width="1"/>
<path fill="#ffff00" d="M617 267h1v20h-1zM617 267h13v1h-13zM618 286h12v1h-12zM617 298h1v20h-1zM617 298h13v1h-13zM618 317h12v1h-12zM443 147h2v24h-2zM443 147h9v1h-9zM443 170h9v1h-9zM451 147h1v24h-1zM456 152h1v14h-1zM457 152h1v14h-1zM223 89h20v1h-20zM64 219h5v1h-5zM64 229h5v1h-5zM64 219h1v11h-1zM68 219h1v11h-1zM69 220h7v1h-7zM69 229h7v1h-7zM69 220h1v10h-1zM75 220h1v10h-1zM72 221h1v8h-1zM59 232h6v13h-6z"/>
<path fill="#00ffff" d="M468 78h16v1h-16zM468 93h16v1h-16zM468 78h1v16h-1zM483 78h1v16h-1zM469 85h14v1h-14zM475 79h1v14h-1zM475 102h8v1h-8zM475 121h8v1h-8zM475 102h1v20h-1zM482 102h1v20h-1zM475 123h8v1h-8zM475 142h8v1h-8zM475 123h1v20h-1zM482 123h1v20h-1zM496 105h2v1h-2zM496 106h1v1h-1zM501 105h2v1h-2zM501 106h1v1h-1zM506 105h2v1h-2zM506 106h1v1h-1zM512 105h2v1h-2zM512 106h1v1h-1zM517 105h2v1h-2zM518 106h1v1h-1zM523 105h2v1h-2zM524 106h1v1h-1zM528 105h2v1h-2zM529 106h1v1h-1zM533 105h2v1h-2zM534 106h1v1h-1zM496 112h2v1h-2zM496 113h1v1h-1zM501 112h2v1h-2zM501 113h1v1h-1zM506 112h2v1h-2zM506 113h1v1h-1zM512 112h2v1h-2zM512 113h1v1h-1zM517 112h2v1h-2zM518 113h1v1h-1zM523 112h2v1h-2zM524 113h1v1h-1zM528 112h2v1h-2zM529 113h1v1h-1zM533 112h2v1h-2zM534 113h1v1h-1zM496 119h2v1h-2zM496 120h1v1h-1zM501 119h2v1h-2zM501 120h1v1h-1zM506 119h2v1h-2zM506 120h1v1h-1zM512 119h2v1h-2zM512 120h1v1h-1zM517 119h2v1h-2zM518 120h1v1h-1zM523 119h2v1h-2zM524 120h1v1h-1zM528 119h2v1h-2zM529 120h1v1h-1zM533 119h2v1h-2zM534 120h1v1h-1zM496 126h2v1h-2zM496 127h1v1h-1zM501 126h2v1h-2zM501 127h1v1h-1zM506 126h2v1h-2zM506 127h1v1h-1zM512 126h2v1h-2zM512 127h1v1h-1zM517 126h2v1h-2zM518 127h1v1h-1zM523 126h2v1h-2zM524 127h1v1h-1zM528 126h2v1h-2zM529 127h1v1h-1zM533 126h2v1h-2zM534 127h1v1h-1zM496 133h2v1h-2zM496 134h1v1h-1zM501 133h2v1h-2zM501 134h1v1h-1zM506 133h2v1h-2zM506 134h1v1h-1zM512 133h2v1h-2zM512 134h1v1h-1zM517 133h2v1h-2zM518 134h1v1h-1zM523 133h2v1h-2zM524 134h1v1h-1zM528 133h2v1h-2zM529 134h1v1h-1zM533 133h2v1h-2zM534 134h1v1h-1zM496 141h2v1h-2zM496 142h1v1h-1zM501 141h2v1h-2zM501 142h1v1h-1zM506 141h2v1h-2zM506 142h1v1h-1zM512 141h2v1h-2zM512 142h1v1h-1zM517 141h2v1h-2zM518 142h1v1h-1zM523 141h2v1h-2zM524 142h1v1h-1zM528 141h2v1h-2zM529 142h1v1h-1zM533 141h2v1h-2zM534 142h1v1h-1zM468 152h16v1h-16zM468 166h16v1h-16zM468 152h1v15h-1zM483 152h1v15h-1zM469 159h14v1h-14zM475 153h1v13h-1zM306 370h17v1h-17zM306 386h17v1h-17zM306 370h1v17h-1zM322 370h1v17h-1zM308 378h13v1h-13zM314 372h1v13h-1zM313 394h8v1h-8zM313 436h8v1h-8zM313 394h1v43h-1zM320 394h1v43h-1zM313 415h8v1h-8zM333 396h2v1h-2zM333 397h1v1h-1zM338 396h2v1h-2zM338 397h1v1h-1zM344 396h2v1h-2zM344 397h1v1h-1zM349 396h2v1h-2zM349 397h1v1h-1zM355 396h2v1h-2zM356 397h1v1h-1zM360 396h2v1h-2zM361 397h1v1h-1zM366 396h2v1h-2zM367 397h1v1h-1zM371 396h2v1h-2zM372 397h1v1h-1zM333 403h2v1h-2zM333 404h1v1h-1zM338 403h2v1h-2zM338 404h1v1h-1zM344 403h2v1h-2zM344 404h1v1h-1zM349 403h2v1h-2zM349 404h1v1h-1zM355 403h2v1h-2zM356 404h1v1h-1zM360 403h2v1h-2zM361 404h1v1h-1zM366 403h2v1h-2zM367 404h1v1h-1zM371 403h2v1h-2zM372 404h1v1h-1zM333 411h2v1h-2zM333 412h1v1h-1zM338 411h2v1h-2zM338 412h1v1h-1zM344 411h2v1h-2zM344 412h1v1h-1zM349 411h2v1h-2zM349 412h1v1h-1zM355 411h2v1h-2zM356 412h1v1h-1zM360 411h2v1h-2zM361 412h1v1h-1zM366 411h2v1h-2zM367 412h1v1h-1zM371 411h2v1h-2zM372 412h1v1h-1zM333 418h2v1h-2zM333 419h1v1h-1zM338 418h2v1h-2zM338 419h1v1h-1zM344 418h2v1h-2zM344 419h1v1h-1zM349 418h2v1h-2zM349 419h1v1h-1zM355 418h2v1h-2zM356 419h1v1h-1zM360 418h2v1h-2zM361 419h1v1h-1zM366 418h2v1h-2zM367 419h1v1h-1zM371 418h2v1h-2zM372 419h1v1h-1zM333 426h2v1h-2zM333 427h1v1h-1zM338 426h2v1h-2zM338 427h1v1h-1zM344 426h2v1h-2zM344 427h1v1h-1zM349 426h2v1h-2zM349 427h1v1h-1zM355 426h2v1h-2zM356 427h1v1h-1zM360 426h2v1h-2zM361 427h1v1h-1zM366 426h2v1h-2zM367 427h1v1h-1zM371 426h2v1h-2zM372 427h1v1h-1zM333 433h2v1h-2zM333 434h1v1h-1zM338 433h2v1h-2zM338 434h1v1h-1zM344 433h2v1h-2zM344 434h1v1h-1zM349 433h2v1h-2zM349 434h1v1h-1zM355 433h2v1h-2zM356 434h1v1h-1zM360 433h2v1h-2zM361 434h1v1h-1zM366 433h2v1h-2zM367 434h1v1h-1zM371 433h2v1h-2zM372 434h1v1h-1zM306 443h15v1h-15zM306 457h15v1h-15zM306 443h1v15h-1zM320 443h1v15h-1zM307 450h13v1h-13zM313 444h1v13h-1zM406 370h17v1h-17zM406 386h17v1h-17zM406 370h1v17h-1zM422 370h1v17h-1zM408 378h13v1h-13zM414 372h1v13h-1zM413 394h8v1h-8zM413 436h8v1h-8zM413 394h1v43h-1zM420 394h1v43h-1zM413 415h8v1h-8zM433 396h2v1h-2zM433 397h1v1h-1zM438 396h2v1h-2zM438 397h1v1h-1zM443 396h2v1h-2zM443 397h1v1h-1zM449 396h2v1h-2zM449 397h1v1h-1zM454 396h2v1h-2zM455 397h1v1h-1zM460 396h2v1h-2zM461 397h1v1h-1zM465 396h2v1h-2zM466 397h1v1h-1zM470 396h2v1h-2zM471 397h1v1h-1zM433 403h2v1h-2zM433 404h1v1h-1zM438 403h2v1h-2zM438 404h1v1h-1zM443 403h2v1h-2zM443 404h1v1h-1zM449 403h2v1h-2zM449 404h1v1h-1zM454 403h2v1h-2zM455 404h1v1h-1zM460 403h2v1h-2zM461 404h1v1h-1zM465 403h2v1h-2zM466 404h1v1h-1zM470 403h2v1h-2zM471 404h1v1h-1zM433 411h2v1h-2zM433 412h1v1h-1zM438 411h2v1h-2zM438 412h1v1h-1zM443 411h2v1h-2zM443 412h1v1h-1zM449 411h2v1h-2zM449 412h1v1h-1zM454 411h2v1h-2zM455 412h1v1h-1zM460 411h2v1h-2zM461 412h1v1h-1zM465 411h2v1h-2zM466 412h1v1h-1zM470 411h2v1h-2zM471 412h1v1h-1zM433 418h2v1h-2zM433 419h1v1h-1zM438 418h2v1h-2zM438 419h1v1h-1zM443 418h2v1h-2zM443 419h1v1h-1zM449 418h2v1h-2zM449 419h1v1h-1zM454 418h2v1h-2zM455 419h1v1h-1zM460 418h2v1h-2zM461 419h1v1h-1zM465 418h2v1h-2zM466 419h1v1h-1zM470 418h2v1h-2zM471 419h1v1h-1zM433 426h2v1h-2zM433 427h1v1h-1zM438 426h2v1h-2zM438 427h1v1h-1zM443 426h2v1h-2zM443 427h1v1h-1zM449 426h2v1h-2zM449 427h1v1h-1zM454 426h2v1h-2zM455 427h1v1h-1zM460 426h2v1h-2zM461 427h1v1h-1zM465 426h2v1h-2zM466 427h1v1h-1zM470 426h2v1h-2zM471 427h1v1h-1zM433 433h2v1h-2zM433 434h1v1h-1zM438 433h2v1h-2zM438 434h1v1h-1zM443 433h2v1h-2zM443 434h1v1h-1zM449 433h2v1h-2zM449 434h1v1h-1zM454 433h2v1h-2zM455 434h1v1h-1zM460 433h2v1h-2zM461 434h1v1h-1zM465 433h2v1h-2zM466 434h1v1h-1zM470 433h2v1h-2zM471 434h1v1h-1zM407 444h15v1h-15zM407 458h15v1h-15zM407 444h1v15h-1zM421 444h1v15h-1zM408 451h13v1h-13zM414 445h1v13h-1zM557 265h74v1h-74zM557 319h74v1h-74zM557 265h1v55h-1zM630 265h1v55h-1zM220 77h26v1h-26zM220 91h26v1h-26zM220 77h1v15h-1zM245 77h1v15h-1zM266 386h31v5h-31zM578 387h30v4h-30zM546 330h6v1h-6zM546 358h6v1h-6zM546 330h1v29h-1zM551 330h1v29h-1zM548 330h1v29h-1zM503 218h6v1h-6zM503 247h6v1h-6zM503 218h1v30h-1zM508 218h1v30h-1zM505 218h1v30h-1zM506 218h1v30h-1zM241 437h9v2h-9zM241 456h9v2h-9zM241 437h2v21h-2zM248 437h2v21h-2zM603 461h21v2h-21zM603 469h21v2h-21zM603 461h2v10h-2zM622 461h2v10h-2zM367 89h29v1h-29zM367 98h29v1h-29zM367 89h1v10h-1zM395 89h1v10h-1zM367 92h29v1h-29zM367 95h29v1h-29zM187 164h30v1h-30zM187 173h30v1h-30zM187 164h1v10h-1zM216 164h1v10h-1zM187 167h30v1h-30zM187 170h30v1h-30zM103 175h11v1h-11zM103 203h11v1h-11zM103 175h1v29h-1zM113 175h1v29h-1zM106 175h1v29h-1zM110 175h1v29h-1zM467 208h30v1h-30zM467 217h30v1h-30zM467 208h1v10h-1zM496 208h1v10h-1zM467 211h30v1h-30zM467 214h30v1h-30zM243 319h29v1h-29zM243 329h29v1h-29zM243 319h1v11h-1zM271 319h1v11h-1zM243 323h29v1h-29zM243 326h29v1h-29zM365 319h30v1h-30zM365 329h30v1h-30zM365 319h1v11h-1zM394 319h1v11h-1zM365 323h30v1h-30zM365 326h30v1h-30zM405 319h30v1h-30zM405 329h30v1h-30zM405 319h1v11h-1zM434 319h1v11h-1zM405 323h30v1h-30zM405 326h30v1h-30z"/>
<path fill="#000001" d="M267 388h29v1h-29zM43 242h6v1h-6zM43 245h6v1h-6zM61 234h1v7h-1zM61 242h1v1h-1zM63 242h1v1h-1z"/>
<path fill="#0000fe" d="M551 414h27v2h-27zM551 469h27v2h-27zM551 414h2v57h-2zM576 414h2v57h-2z"/>
<path fill="#009999" d="M579 389h28v1h-28z"/>
<rect x="686" y="0" width="1" height="521" fill="#fff"/>
</svg></body></html>
